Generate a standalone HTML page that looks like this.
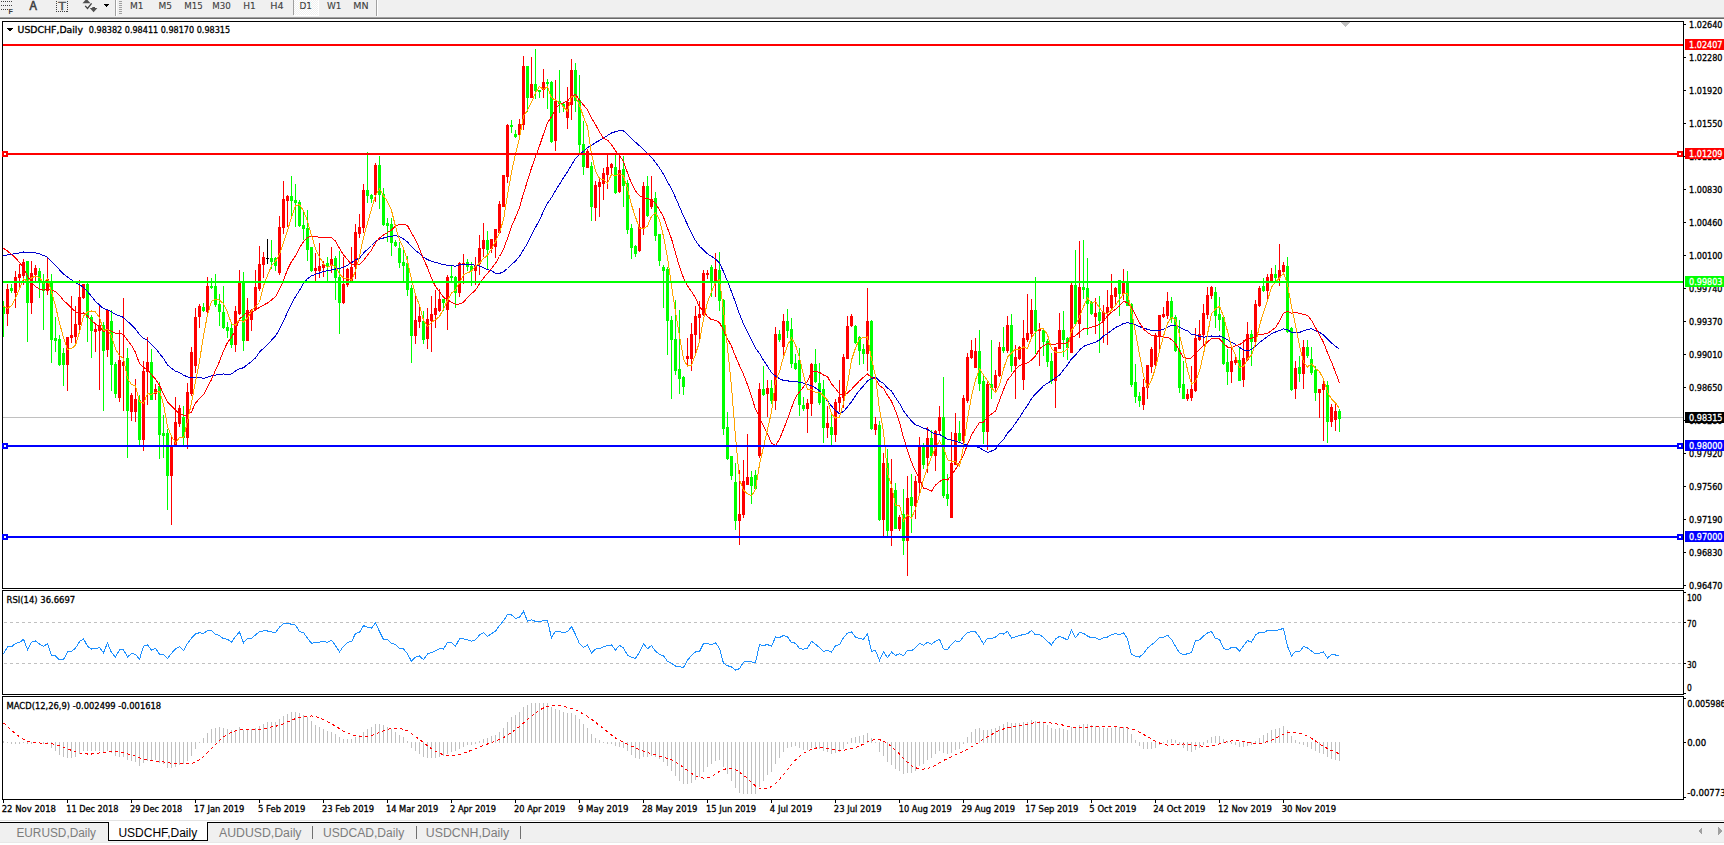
<!DOCTYPE html>
<html><head><meta charset="utf-8"><title>USDCHF,Daily</title>
<style>html,body{margin:0;padding:0;background:#fff}body{width:1724px;height:845px;overflow:hidden;position:relative;font-family:"Liberation Sans", "DejaVu Sans", sans-serif}</style>
</head><body>
<svg width="1724" height="845" viewBox="0 0 1724 845" shape-rendering="crispEdges" style="position:absolute;left:0;top:0">
<rect x="0" y="0" width="1724" height="845" fill="#ffffff"/>
<rect x="0" y="0" width="1724" height="17" fill="#f0f0f0"/>
<rect x="0" y="17" width="1724" height="1" fill="#a0a0a0"/>
<rect x="0" y="18" width="1724" height="1" fill="#696969"/>
<defs><clipPath id="cm"><rect x="3" y="22" width="1680" height="566"/></clipPath><clipPath id="cr"><rect x="3" y="591" width="1680" height="103"/></clipPath><clipPath id="cd"><rect x="3" y="697" width="1680" height="102"/></clipPath></defs>
<g clip-path="url(#cm)">
<rect x="3" y="417" width="1680" height="1" fill="#c0c0c0"/>
<rect x="3" y="301" width="1" height="36" fill="#00ff00"/>
<rect x="2" y="306" width="3" height="8" fill="#00ff00"/>
<rect x="7" y="284" width="1" height="42" fill="#ff0000"/>
<rect x="6" y="289" width="3" height="25" fill="#ff0000"/>
<rect x="11" y="284" width="1" height="9" fill="#00ff00"/>
<rect x="10" y="288" width="3" height="3" fill="#00ff00"/>
<rect x="15" y="271" width="1" height="37" fill="#ff0000"/>
<rect x="14" y="277" width="3" height="16" fill="#ff0000"/>
<rect x="19" y="264" width="1" height="23" fill="#ff0000"/>
<rect x="18" y="274" width="3" height="4" fill="#ff0000"/>
<rect x="23" y="259" width="1" height="26" fill="#ff0000"/>
<rect x="22" y="262" width="3" height="14" fill="#ff0000"/>
<rect x="27" y="261" width="1" height="81" fill="#00ff00"/>
<rect x="26" y="261" width="3" height="42" fill="#00ff00"/>
<rect x="31" y="261" width="1" height="53" fill="#ff0000"/>
<rect x="30" y="273" width="3" height="30" fill="#ff0000"/>
<rect x="35" y="265" width="1" height="18" fill="#ff0000"/>
<rect x="34" y="268" width="3" height="7" fill="#ff0000"/>
<rect x="39" y="268" width="1" height="30" fill="#00ff00"/>
<rect x="38" y="271" width="3" height="10" fill="#00ff00"/>
<rect x="43" y="274" width="1" height="56" fill="#00ff00"/>
<rect x="42" y="282" width="3" height="9" fill="#00ff00"/>
<rect x="47" y="257" width="1" height="38" fill="#ff0000"/>
<rect x="46" y="279" width="3" height="12" fill="#ff0000"/>
<rect x="51" y="274" width="1" height="89" fill="#00ff00"/>
<rect x="50" y="281" width="3" height="59" fill="#00ff00"/>
<rect x="55" y="317" width="1" height="35" fill="#00ff00"/>
<rect x="54" y="338" width="3" height="3" fill="#00ff00"/>
<rect x="59" y="335" width="1" height="31" fill="#00ff00"/>
<rect x="58" y="339" width="3" height="26" fill="#00ff00"/>
<rect x="63" y="348" width="1" height="38" fill="#00ff00"/>
<rect x="62" y="353" width="3" height="12" fill="#00ff00"/>
<rect x="67" y="337" width="1" height="54" fill="#ff0000"/>
<rect x="66" y="337" width="3" height="28" fill="#ff0000"/>
<rect x="71" y="296" width="1" height="47" fill="#ff0000"/>
<rect x="70" y="335" width="3" height="3" fill="#ff0000"/>
<rect x="75" y="306" width="1" height="38" fill="#ff0000"/>
<rect x="74" y="324" width="3" height="13" fill="#ff0000"/>
<rect x="79" y="280" width="1" height="51" fill="#ff0000"/>
<rect x="78" y="297" width="3" height="28" fill="#ff0000"/>
<rect x="83" y="284" width="1" height="15" fill="#ff0000"/>
<rect x="82" y="284" width="3" height="14" fill="#ff0000"/>
<rect x="87" y="283" width="1" height="59" fill="#00ff00"/>
<rect x="86" y="284" width="3" height="34" fill="#00ff00"/>
<rect x="91" y="315" width="1" height="43" fill="#00ff00"/>
<rect x="90" y="317" width="3" height="14" fill="#00ff00"/>
<rect x="95" y="325" width="1" height="27" fill="#ff0000"/>
<rect x="94" y="329" width="3" height="3" fill="#ff0000"/>
<rect x="99" y="306" width="1" height="84" fill="#ff0000"/>
<rect x="98" y="325" width="3" height="6" fill="#ff0000"/>
<rect x="103" y="322" width="1" height="89" fill="#00ff00"/>
<rect x="102" y="325" width="3" height="26" fill="#00ff00"/>
<rect x="107" y="310" width="1" height="47" fill="#ff0000"/>
<rect x="106" y="310" width="3" height="40" fill="#ff0000"/>
<rect x="111" y="310" width="1" height="81" fill="#00ff00"/>
<rect x="110" y="321" width="3" height="44" fill="#00ff00"/>
<rect x="115" y="362" width="1" height="36" fill="#00ff00"/>
<rect x="114" y="364" width="3" height="30" fill="#00ff00"/>
<rect x="119" y="330" width="1" height="72" fill="#ff0000"/>
<rect x="118" y="360" width="3" height="38" fill="#ff0000"/>
<rect x="123" y="298" width="1" height="113" fill="#ff0000"/>
<rect x="122" y="362" width="3" height="4" fill="#ff0000"/>
<rect x="127" y="348" width="1" height="110" fill="#00ff00"/>
<rect x="126" y="358" width="3" height="53" fill="#00ff00"/>
<rect x="131" y="393" width="1" height="28" fill="#ff0000"/>
<rect x="130" y="395" width="3" height="17" fill="#ff0000"/>
<rect x="135" y="379" width="1" height="43" fill="#ff0000"/>
<rect x="134" y="399" width="3" height="13" fill="#ff0000"/>
<rect x="139" y="395" width="1" height="50" fill="#00ff00"/>
<rect x="138" y="400" width="3" height="40" fill="#00ff00"/>
<rect x="143" y="361" width="1" height="90" fill="#ff0000"/>
<rect x="142" y="371" width="3" height="69" fill="#ff0000"/>
<rect x="147" y="337" width="1" height="68" fill="#ff0000"/>
<rect x="146" y="362" width="3" height="10" fill="#ff0000"/>
<rect x="151" y="349" width="1" height="51" fill="#00ff00"/>
<rect x="150" y="362" width="3" height="38" fill="#00ff00"/>
<rect x="155" y="384" width="1" height="16" fill="#ff0000"/>
<rect x="154" y="389" width="3" height="5" fill="#ff0000"/>
<rect x="159" y="382" width="1" height="77" fill="#00ff00"/>
<rect x="158" y="386" width="3" height="49" fill="#00ff00"/>
<rect x="163" y="415" width="1" height="43" fill="#00ff00"/>
<rect x="162" y="433" width="3" height="3" fill="#00ff00"/>
<rect x="167" y="429" width="1" height="81" fill="#00ff00"/>
<rect x="166" y="433" width="3" height="43" fill="#00ff00"/>
<rect x="171" y="437" width="1" height="88" fill="#ff0000"/>
<rect x="170" y="446" width="3" height="30" fill="#ff0000"/>
<rect x="175" y="397" width="1" height="48" fill="#ff0000"/>
<rect x="174" y="422" width="3" height="23" fill="#ff0000"/>
<rect x="179" y="405" width="1" height="22" fill="#ff0000"/>
<rect x="178" y="408" width="3" height="16" fill="#ff0000"/>
<rect x="183" y="406" width="1" height="39" fill="#00ff00"/>
<rect x="182" y="417" width="3" height="21" fill="#00ff00"/>
<rect x="187" y="383" width="1" height="66" fill="#ff0000"/>
<rect x="186" y="392" width="3" height="46" fill="#ff0000"/>
<rect x="191" y="347" width="1" height="49" fill="#ff0000"/>
<rect x="190" y="352" width="3" height="42" fill="#ff0000"/>
<rect x="195" y="308" width="1" height="65" fill="#ff0000"/>
<rect x="194" y="317" width="3" height="49" fill="#ff0000"/>
<rect x="199" y="304" width="1" height="24" fill="#ff0000"/>
<rect x="198" y="306" width="3" height="11" fill="#ff0000"/>
<rect x="203" y="303" width="1" height="9" fill="#00ff00"/>
<rect x="202" y="307" width="3" height="4" fill="#00ff00"/>
<rect x="207" y="277" width="1" height="36" fill="#ff0000"/>
<rect x="206" y="286" width="3" height="26" fill="#ff0000"/>
<rect x="211" y="278" width="1" height="11" fill="#00ff00"/>
<rect x="210" y="286" width="3" height="2" fill="#00ff00"/>
<rect x="215" y="274" width="1" height="33" fill="#00ff00"/>
<rect x="214" y="286" width="3" height="19" fill="#00ff00"/>
<rect x="219" y="294" width="1" height="32" fill="#00ff00"/>
<rect x="218" y="304" width="3" height="8" fill="#00ff00"/>
<rect x="223" y="286" width="1" height="43" fill="#00ff00"/>
<rect x="222" y="312" width="3" height="16" fill="#00ff00"/>
<rect x="227" y="322" width="1" height="16" fill="#00ff00"/>
<rect x="226" y="327" width="3" height="4" fill="#00ff00"/>
<rect x="231" y="324" width="1" height="24" fill="#00ff00"/>
<rect x="230" y="328" width="3" height="17" fill="#00ff00"/>
<rect x="235" y="306" width="1" height="46" fill="#ff0000"/>
<rect x="234" y="311" width="3" height="34" fill="#ff0000"/>
<rect x="239" y="270" width="1" height="45" fill="#ff0000"/>
<rect x="238" y="283" width="3" height="31" fill="#ff0000"/>
<rect x="243" y="272" width="1" height="79" fill="#00ff00"/>
<rect x="242" y="283" width="3" height="58" fill="#00ff00"/>
<rect x="247" y="298" width="1" height="43" fill="#ff0000"/>
<rect x="246" y="310" width="3" height="31" fill="#ff0000"/>
<rect x="251" y="309" width="1" height="22" fill="#ff0000"/>
<rect x="250" y="310" width="3" height="10" fill="#ff0000"/>
<rect x="255" y="270" width="1" height="40" fill="#ff0000"/>
<rect x="254" y="287" width="3" height="23" fill="#ff0000"/>
<rect x="259" y="246" width="1" height="45" fill="#ff0000"/>
<rect x="258" y="264" width="3" height="25" fill="#ff0000"/>
<rect x="263" y="252" width="1" height="26" fill="#ff0000"/>
<rect x="262" y="257" width="3" height="8" fill="#ff0000"/>
<rect x="267" y="239" width="1" height="25" fill="#000000"/>
<rect x="266" y="258" width="3" height="1" fill="#000000"/>
<rect x="271" y="240" width="1" height="29" fill="#00ff00"/>
<rect x="270" y="258" width="3" height="4" fill="#00ff00"/>
<rect x="275" y="257" width="1" height="14" fill="#00ff00"/>
<rect x="274" y="258" width="3" height="8" fill="#00ff00"/>
<rect x="279" y="216" width="1" height="59" fill="#ff0000"/>
<rect x="278" y="227" width="3" height="46" fill="#ff0000"/>
<rect x="283" y="181" width="1" height="53" fill="#ff0000"/>
<rect x="282" y="199" width="3" height="29" fill="#ff0000"/>
<rect x="287" y="195" width="1" height="32" fill="#ff0000"/>
<rect x="286" y="196" width="3" height="5" fill="#ff0000"/>
<rect x="291" y="176" width="1" height="40" fill="#00ff00"/>
<rect x="290" y="196" width="3" height="5" fill="#00ff00"/>
<rect x="295" y="184" width="1" height="43" fill="#00ff00"/>
<rect x="294" y="200" width="3" height="3" fill="#00ff00"/>
<rect x="299" y="200" width="1" height="27" fill="#00ff00"/>
<rect x="298" y="202" width="3" height="24" fill="#00ff00"/>
<rect x="303" y="210" width="1" height="30" fill="#00ff00"/>
<rect x="302" y="225" width="3" height="4" fill="#00ff00"/>
<rect x="307" y="210" width="1" height="51" fill="#00ff00"/>
<rect x="306" y="228" width="3" height="22" fill="#00ff00"/>
<rect x="311" y="247" width="1" height="25" fill="#00ff00"/>
<rect x="310" y="247" width="3" height="24" fill="#00ff00"/>
<rect x="315" y="253" width="1" height="29" fill="#ff0000"/>
<rect x="314" y="268" width="3" height="3" fill="#ff0000"/>
<rect x="319" y="243" width="1" height="35" fill="#ff0000"/>
<rect x="318" y="266" width="3" height="5" fill="#ff0000"/>
<rect x="323" y="261" width="1" height="16" fill="#ff0000"/>
<rect x="322" y="264" width="3" height="4" fill="#ff0000"/>
<rect x="327" y="257" width="1" height="25" fill="#00ff00"/>
<rect x="326" y="263" width="3" height="4" fill="#00ff00"/>
<rect x="331" y="247" width="1" height="26" fill="#ff0000"/>
<rect x="330" y="259" width="3" height="7" fill="#ff0000"/>
<rect x="335" y="256" width="1" height="44" fill="#00ff00"/>
<rect x="334" y="258" width="3" height="20" fill="#00ff00"/>
<rect x="339" y="251" width="1" height="83" fill="#00ff00"/>
<rect x="338" y="277" width="3" height="26" fill="#00ff00"/>
<rect x="343" y="257" width="1" height="47" fill="#ff0000"/>
<rect x="342" y="284" width="3" height="19" fill="#ff0000"/>
<rect x="347" y="268" width="1" height="19" fill="#ff0000"/>
<rect x="346" y="269" width="3" height="16" fill="#ff0000"/>
<rect x="351" y="247" width="1" height="35" fill="#ff0000"/>
<rect x="350" y="267" width="3" height="14" fill="#ff0000"/>
<rect x="355" y="224" width="1" height="55" fill="#ff0000"/>
<rect x="354" y="232" width="3" height="35" fill="#ff0000"/>
<rect x="359" y="214" width="1" height="24" fill="#ff0000"/>
<rect x="358" y="227" width="3" height="7" fill="#ff0000"/>
<rect x="363" y="184" width="1" height="49" fill="#ff0000"/>
<rect x="362" y="190" width="3" height="38" fill="#ff0000"/>
<rect x="367" y="152" width="1" height="51" fill="#00ff00"/>
<rect x="366" y="190" width="3" height="6" fill="#00ff00"/>
<rect x="371" y="194" width="1" height="9" fill="#00ff00"/>
<rect x="370" y="195" width="3" height="4" fill="#00ff00"/>
<rect x="375" y="163" width="1" height="39" fill="#ff0000"/>
<rect x="374" y="165" width="3" height="30" fill="#ff0000"/>
<rect x="379" y="156" width="1" height="53" fill="#00ff00"/>
<rect x="378" y="165" width="3" height="30" fill="#00ff00"/>
<rect x="383" y="188" width="1" height="38" fill="#00ff00"/>
<rect x="382" y="194" width="3" height="31" fill="#00ff00"/>
<rect x="387" y="218" width="1" height="24" fill="#00ff00"/>
<rect x="386" y="223" width="3" height="3" fill="#00ff00"/>
<rect x="391" y="218" width="1" height="38" fill="#00ff00"/>
<rect x="390" y="224" width="3" height="19" fill="#00ff00"/>
<rect x="395" y="240" width="1" height="7" fill="#00ff00"/>
<rect x="394" y="242" width="3" height="4" fill="#00ff00"/>
<rect x="399" y="242" width="1" height="26" fill="#00ff00"/>
<rect x="398" y="248" width="3" height="15" fill="#00ff00"/>
<rect x="403" y="249" width="1" height="32" fill="#00ff00"/>
<rect x="402" y="262" width="3" height="4" fill="#00ff00"/>
<rect x="407" y="256" width="1" height="40" fill="#00ff00"/>
<rect x="406" y="263" width="3" height="27" fill="#00ff00"/>
<rect x="411" y="285" width="1" height="78" fill="#00ff00"/>
<rect x="410" y="288" width="3" height="48" fill="#00ff00"/>
<rect x="415" y="296" width="1" height="48" fill="#ff0000"/>
<rect x="414" y="320" width="3" height="16" fill="#ff0000"/>
<rect x="419" y="306" width="1" height="22" fill="#ff0000"/>
<rect x="418" y="316" width="3" height="6" fill="#ff0000"/>
<rect x="423" y="311" width="1" height="33" fill="#00ff00"/>
<rect x="422" y="321" width="3" height="19" fill="#00ff00"/>
<rect x="427" y="308" width="1" height="41" fill="#ff0000"/>
<rect x="426" y="319" width="3" height="20" fill="#ff0000"/>
<rect x="431" y="296" width="1" height="56" fill="#ff0000"/>
<rect x="430" y="314" width="3" height="7" fill="#ff0000"/>
<rect x="435" y="290" width="1" height="38" fill="#ff0000"/>
<rect x="434" y="308" width="3" height="7" fill="#ff0000"/>
<rect x="439" y="289" width="1" height="23" fill="#ff0000"/>
<rect x="438" y="299" width="3" height="12" fill="#ff0000"/>
<rect x="443" y="299" width="1" height="12" fill="#00ff00"/>
<rect x="442" y="299" width="3" height="4" fill="#00ff00"/>
<rect x="447" y="275" width="1" height="55" fill="#ff0000"/>
<rect x="446" y="277" width="3" height="33" fill="#ff0000"/>
<rect x="451" y="266" width="1" height="16" fill="#00ff00"/>
<rect x="450" y="276" width="3" height="2" fill="#00ff00"/>
<rect x="455" y="276" width="1" height="32" fill="#00ff00"/>
<rect x="454" y="277" width="3" height="16" fill="#00ff00"/>
<rect x="459" y="262" width="1" height="35" fill="#ff0000"/>
<rect x="458" y="263" width="3" height="30" fill="#ff0000"/>
<rect x="463" y="254" width="1" height="30" fill="#ff0000"/>
<rect x="462" y="263" width="3" height="2" fill="#ff0000"/>
<rect x="467" y="259" width="1" height="12" fill="#00ff00"/>
<rect x="466" y="262" width="3" height="5" fill="#00ff00"/>
<rect x="471" y="262" width="1" height="24" fill="#00ff00"/>
<rect x="470" y="266" width="3" height="5" fill="#00ff00"/>
<rect x="475" y="257" width="1" height="28" fill="#ff0000"/>
<rect x="474" y="266" width="3" height="5" fill="#ff0000"/>
<rect x="479" y="235" width="1" height="40" fill="#ff0000"/>
<rect x="478" y="248" width="3" height="16" fill="#ff0000"/>
<rect x="483" y="223" width="1" height="34" fill="#ff0000"/>
<rect x="482" y="240" width="3" height="9" fill="#ff0000"/>
<rect x="487" y="231" width="1" height="38" fill="#00ff00"/>
<rect x="486" y="240" width="3" height="10" fill="#00ff00"/>
<rect x="491" y="239" width="1" height="14" fill="#ff0000"/>
<rect x="490" y="239" width="3" height="10" fill="#ff0000"/>
<rect x="495" y="229" width="1" height="29" fill="#ff0000"/>
<rect x="494" y="229" width="3" height="18" fill="#ff0000"/>
<rect x="499" y="201" width="1" height="33" fill="#ff0000"/>
<rect x="498" y="204" width="3" height="29" fill="#ff0000"/>
<rect x="503" y="175" width="1" height="32" fill="#ff0000"/>
<rect x="502" y="175" width="3" height="32" fill="#ff0000"/>
<rect x="507" y="124" width="1" height="59" fill="#ff0000"/>
<rect x="506" y="125" width="3" height="52" fill="#ff0000"/>
<rect x="511" y="120" width="1" height="13" fill="#00ff00"/>
<rect x="510" y="125" width="3" height="2" fill="#00ff00"/>
<rect x="515" y="130" width="1" height="8" fill="#00ff00"/>
<rect x="514" y="134" width="3" height="3" fill="#00ff00"/>
<rect x="519" y="119" width="1" height="17" fill="#ff0000"/>
<rect x="518" y="124" width="3" height="11" fill="#ff0000"/>
<rect x="523" y="56" width="1" height="74" fill="#ff0000"/>
<rect x="522" y="66" width="3" height="59" fill="#ff0000"/>
<rect x="527" y="66" width="1" height="46" fill="#00ff00"/>
<rect x="526" y="66" width="3" height="32" fill="#00ff00"/>
<rect x="531" y="57" width="1" height="41" fill="#ff0000"/>
<rect x="530" y="84" width="3" height="14" fill="#ff0000"/>
<rect x="535" y="49" width="1" height="50" fill="#00ff00"/>
<rect x="534" y="84" width="3" height="7" fill="#00ff00"/>
<rect x="539" y="90" width="1" height="8" fill="#00ff00"/>
<rect x="538" y="90" width="3" height="2" fill="#00ff00"/>
<rect x="543" y="69" width="1" height="29" fill="#ff0000"/>
<rect x="542" y="82" width="3" height="8" fill="#ff0000"/>
<rect x="547" y="79" width="1" height="30" fill="#00ff00"/>
<rect x="546" y="82" width="3" height="2" fill="#00ff00"/>
<rect x="551" y="81" width="1" height="62" fill="#00ff00"/>
<rect x="550" y="82" width="3" height="60" fill="#00ff00"/>
<rect x="555" y="80" width="1" height="71" fill="#ff0000"/>
<rect x="554" y="101" width="3" height="40" fill="#ff0000"/>
<rect x="559" y="70" width="1" height="43" fill="#00ff00"/>
<rect x="558" y="101" width="3" height="3" fill="#00ff00"/>
<rect x="563" y="103" width="1" height="9" fill="#00ff00"/>
<rect x="562" y="104" width="3" height="3" fill="#00ff00"/>
<rect x="567" y="87" width="1" height="42" fill="#ff0000"/>
<rect x="566" y="102" width="3" height="16" fill="#ff0000"/>
<rect x="571" y="59" width="1" height="61" fill="#ff0000"/>
<rect x="570" y="70" width="3" height="35" fill="#ff0000"/>
<rect x="575" y="63" width="1" height="49" fill="#00ff00"/>
<rect x="574" y="70" width="3" height="31" fill="#00ff00"/>
<rect x="579" y="75" width="1" height="79" fill="#00ff00"/>
<rect x="578" y="100" width="3" height="45" fill="#00ff00"/>
<rect x="583" y="121" width="1" height="54" fill="#00ff00"/>
<rect x="582" y="144" width="3" height="23" fill="#00ff00"/>
<rect x="587" y="149" width="1" height="19" fill="#ff0000"/>
<rect x="586" y="151" width="3" height="17" fill="#ff0000"/>
<rect x="591" y="162" width="1" height="59" fill="#00ff00"/>
<rect x="590" y="166" width="3" height="41" fill="#00ff00"/>
<rect x="595" y="181" width="1" height="40" fill="#ff0000"/>
<rect x="594" y="185" width="3" height="23" fill="#ff0000"/>
<rect x="599" y="179" width="1" height="38" fill="#ff0000"/>
<rect x="598" y="182" width="3" height="5" fill="#ff0000"/>
<rect x="603" y="168" width="1" height="32" fill="#ff0000"/>
<rect x="602" y="173" width="3" height="11" fill="#ff0000"/>
<rect x="607" y="154" width="1" height="35" fill="#ff0000"/>
<rect x="606" y="167" width="3" height="8" fill="#ff0000"/>
<rect x="611" y="163" width="1" height="12" fill="#ff0000"/>
<rect x="610" y="164" width="3" height="4" fill="#ff0000"/>
<rect x="615" y="154" width="1" height="40" fill="#00ff00"/>
<rect x="614" y="167" width="3" height="26" fill="#00ff00"/>
<rect x="619" y="154" width="1" height="39" fill="#ff0000"/>
<rect x="618" y="170" width="3" height="22" fill="#ff0000"/>
<rect x="623" y="156" width="1" height="51" fill="#00ff00"/>
<rect x="622" y="169" width="3" height="17" fill="#00ff00"/>
<rect x="627" y="180" width="1" height="54" fill="#00ff00"/>
<rect x="626" y="183" width="3" height="47" fill="#00ff00"/>
<rect x="631" y="224" width="1" height="35" fill="#00ff00"/>
<rect x="630" y="228" width="3" height="20" fill="#00ff00"/>
<rect x="635" y="245" width="1" height="12" fill="#00ff00"/>
<rect x="634" y="246" width="3" height="8" fill="#00ff00"/>
<rect x="639" y="208" width="1" height="44" fill="#ff0000"/>
<rect x="638" y="227" width="3" height="24" fill="#ff0000"/>
<rect x="643" y="182" width="1" height="53" fill="#ff0000"/>
<rect x="642" y="186" width="3" height="43" fill="#ff0000"/>
<rect x="647" y="176" width="1" height="41" fill="#00ff00"/>
<rect x="646" y="186" width="3" height="30" fill="#00ff00"/>
<rect x="651" y="176" width="1" height="33" fill="#ff0000"/>
<rect x="650" y="199" width="3" height="8" fill="#ff0000"/>
<rect x="655" y="192" width="1" height="49" fill="#00ff00"/>
<rect x="654" y="198" width="3" height="38" fill="#00ff00"/>
<rect x="659" y="234" width="1" height="32" fill="#00ff00"/>
<rect x="658" y="234" width="3" height="27" fill="#00ff00"/>
<rect x="663" y="265" width="1" height="43" fill="#00ff00"/>
<rect x="662" y="267" width="3" height="4" fill="#00ff00"/>
<rect x="667" y="267" width="1" height="88" fill="#00ff00"/>
<rect x="666" y="269" width="3" height="52" fill="#00ff00"/>
<rect x="671" y="316" width="1" height="83" fill="#00ff00"/>
<rect x="670" y="320" width="3" height="20" fill="#00ff00"/>
<rect x="675" y="300" width="1" height="75" fill="#00ff00"/>
<rect x="674" y="339" width="3" height="32" fill="#00ff00"/>
<rect x="679" y="310" width="1" height="84" fill="#00ff00"/>
<rect x="678" y="369" width="3" height="10" fill="#00ff00"/>
<rect x="683" y="376" width="1" height="19" fill="#00ff00"/>
<rect x="682" y="377" width="3" height="10" fill="#00ff00"/>
<rect x="687" y="338" width="1" height="27" fill="#ff0000"/>
<rect x="686" y="356" width="3" height="3" fill="#ff0000"/>
<rect x="691" y="323" width="1" height="48" fill="#ff0000"/>
<rect x="690" y="334" width="3" height="25" fill="#ff0000"/>
<rect x="695" y="306" width="1" height="47" fill="#ff0000"/>
<rect x="694" y="316" width="3" height="19" fill="#ff0000"/>
<rect x="699" y="301" width="1" height="39" fill="#ff0000"/>
<rect x="698" y="314" width="3" height="4" fill="#ff0000"/>
<rect x="703" y="270" width="1" height="46" fill="#ff0000"/>
<rect x="702" y="273" width="3" height="42" fill="#ff0000"/>
<rect x="707" y="270" width="1" height="9" fill="#ff0000"/>
<rect x="706" y="273" width="3" height="2" fill="#ff0000"/>
<rect x="711" y="265" width="1" height="32" fill="#00ff00"/>
<rect x="710" y="267" width="3" height="14" fill="#00ff00"/>
<rect x="715" y="253" width="1" height="44" fill="#ff0000"/>
<rect x="714" y="269" width="3" height="12" fill="#ff0000"/>
<rect x="719" y="252" width="1" height="59" fill="#00ff00"/>
<rect x="718" y="270" width="3" height="31" fill="#00ff00"/>
<rect x="723" y="299" width="1" height="136" fill="#00ff00"/>
<rect x="722" y="300" width="3" height="129" fill="#00ff00"/>
<rect x="727" y="412" width="1" height="48" fill="#00ff00"/>
<rect x="726" y="427" width="3" height="32" fill="#00ff00"/>
<rect x="731" y="456" width="1" height="24" fill="#00ff00"/>
<rect x="730" y="456" width="3" height="20" fill="#00ff00"/>
<rect x="735" y="463" width="1" height="67" fill="#00ff00"/>
<rect x="734" y="482" width="3" height="39" fill="#00ff00"/>
<rect x="739" y="470" width="1" height="75" fill="#ff0000"/>
<rect x="738" y="514" width="3" height="7" fill="#ff0000"/>
<rect x="743" y="460" width="1" height="58" fill="#ff0000"/>
<rect x="742" y="481" width="3" height="34" fill="#ff0000"/>
<rect x="747" y="434" width="1" height="51" fill="#ff0000"/>
<rect x="746" y="477" width="3" height="8" fill="#ff0000"/>
<rect x="751" y="471" width="1" height="33" fill="#00ff00"/>
<rect x="750" y="477" width="3" height="9" fill="#00ff00"/>
<rect x="755" y="470" width="1" height="20" fill="#00ff00"/>
<rect x="754" y="475" width="3" height="14" fill="#00ff00"/>
<rect x="759" y="383" width="1" height="75" fill="#ff0000"/>
<rect x="758" y="389" width="3" height="67" fill="#ff0000"/>
<rect x="763" y="366" width="1" height="30" fill="#00ff00"/>
<rect x="762" y="389" width="3" height="6" fill="#00ff00"/>
<rect x="767" y="380" width="1" height="37" fill="#ff0000"/>
<rect x="766" y="388" width="3" height="6" fill="#ff0000"/>
<rect x="771" y="380" width="1" height="24" fill="#00ff00"/>
<rect x="770" y="388" width="3" height="13" fill="#00ff00"/>
<rect x="775" y="327" width="1" height="83" fill="#ff0000"/>
<rect x="774" y="334" width="3" height="67" fill="#ff0000"/>
<rect x="779" y="330" width="1" height="12" fill="#00ff00"/>
<rect x="778" y="334" width="3" height="6" fill="#00ff00"/>
<rect x="783" y="314" width="1" height="41" fill="#ff0000"/>
<rect x="782" y="321" width="3" height="26" fill="#ff0000"/>
<rect x="787" y="309" width="1" height="29" fill="#00ff00"/>
<rect x="786" y="321" width="3" height="10" fill="#00ff00"/>
<rect x="791" y="318" width="1" height="50" fill="#00ff00"/>
<rect x="790" y="329" width="3" height="35" fill="#00ff00"/>
<rect x="795" y="354" width="1" height="16" fill="#00ff00"/>
<rect x="794" y="363" width="3" height="6" fill="#00ff00"/>
<rect x="799" y="348" width="1" height="68" fill="#00ff00"/>
<rect x="798" y="360" width="3" height="45" fill="#00ff00"/>
<rect x="803" y="397" width="1" height="14" fill="#00ff00"/>
<rect x="802" y="405" width="3" height="4" fill="#00ff00"/>
<rect x="807" y="399" width="1" height="34" fill="#ff0000"/>
<rect x="806" y="403" width="3" height="6" fill="#ff0000"/>
<rect x="811" y="363" width="1" height="53" fill="#ff0000"/>
<rect x="810" y="364" width="3" height="40" fill="#ff0000"/>
<rect x="815" y="349" width="1" height="34" fill="#00ff00"/>
<rect x="814" y="364" width="3" height="18" fill="#00ff00"/>
<rect x="819" y="363" width="1" height="42" fill="#00ff00"/>
<rect x="818" y="383" width="3" height="20" fill="#00ff00"/>
<rect x="823" y="380" width="1" height="63" fill="#00ff00"/>
<rect x="822" y="389" width="3" height="39" fill="#00ff00"/>
<rect x="827" y="406" width="1" height="32" fill="#ff0000"/>
<rect x="826" y="423" width="3" height="5" fill="#ff0000"/>
<rect x="831" y="412" width="1" height="33" fill="#00ff00"/>
<rect x="830" y="427" width="3" height="8" fill="#00ff00"/>
<rect x="835" y="399" width="1" height="43" fill="#ff0000"/>
<rect x="834" y="402" width="3" height="33" fill="#ff0000"/>
<rect x="839" y="380" width="1" height="32" fill="#ff0000"/>
<rect x="838" y="397" width="3" height="6" fill="#ff0000"/>
<rect x="843" y="354" width="1" height="54" fill="#ff0000"/>
<rect x="842" y="357" width="3" height="41" fill="#ff0000"/>
<rect x="847" y="316" width="1" height="43" fill="#ff0000"/>
<rect x="846" y="326" width="3" height="33" fill="#ff0000"/>
<rect x="851" y="314" width="1" height="13" fill="#ff0000"/>
<rect x="850" y="316" width="3" height="10" fill="#ff0000"/>
<rect x="855" y="325" width="1" height="19" fill="#00ff00"/>
<rect x="854" y="326" width="3" height="17" fill="#00ff00"/>
<rect x="859" y="336" width="1" height="29" fill="#00ff00"/>
<rect x="858" y="337" width="3" height="14" fill="#00ff00"/>
<rect x="863" y="344" width="1" height="20" fill="#00ff00"/>
<rect x="862" y="349" width="3" height="5" fill="#00ff00"/>
<rect x="867" y="288" width="1" height="83" fill="#ff0000"/>
<rect x="866" y="321" width="3" height="33" fill="#ff0000"/>
<rect x="871" y="320" width="1" height="110" fill="#00ff00"/>
<rect x="870" y="321" width="3" height="108" fill="#00ff00"/>
<rect x="875" y="417" width="1" height="18" fill="#ff0000"/>
<rect x="874" y="424" width="3" height="6" fill="#ff0000"/>
<rect x="879" y="421" width="1" height="100" fill="#00ff00"/>
<rect x="878" y="425" width="3" height="95" fill="#00ff00"/>
<rect x="883" y="453" width="1" height="83" fill="#ff0000"/>
<rect x="882" y="463" width="3" height="57" fill="#ff0000"/>
<rect x="887" y="449" width="1" height="87" fill="#00ff00"/>
<rect x="886" y="463" width="3" height="68" fill="#00ff00"/>
<rect x="891" y="459" width="1" height="87" fill="#ff0000"/>
<rect x="890" y="488" width="3" height="43" fill="#ff0000"/>
<rect x="895" y="483" width="1" height="46" fill="#00ff00"/>
<rect x="894" y="490" width="3" height="39" fill="#00ff00"/>
<rect x="899" y="515" width="1" height="16" fill="#ff0000"/>
<rect x="898" y="517" width="3" height="12" fill="#ff0000"/>
<rect x="903" y="489" width="1" height="66" fill="#00ff00"/>
<rect x="902" y="514" width="3" height="27" fill="#00ff00"/>
<rect x="907" y="476" width="1" height="100" fill="#ff0000"/>
<rect x="906" y="498" width="3" height="43" fill="#ff0000"/>
<rect x="911" y="474" width="1" height="59" fill="#00ff00"/>
<rect x="910" y="497" width="3" height="9" fill="#00ff00"/>
<rect x="915" y="476" width="1" height="43" fill="#ff0000"/>
<rect x="914" y="481" width="3" height="25" fill="#ff0000"/>
<rect x="919" y="437" width="1" height="57" fill="#ff0000"/>
<rect x="918" y="446" width="3" height="37" fill="#ff0000"/>
<rect x="923" y="443" width="1" height="26" fill="#00ff00"/>
<rect x="922" y="446" width="3" height="19" fill="#00ff00"/>
<rect x="927" y="427" width="1" height="46" fill="#ff0000"/>
<rect x="926" y="438" width="3" height="20" fill="#ff0000"/>
<rect x="931" y="430" width="1" height="28" fill="#00ff00"/>
<rect x="930" y="438" width="3" height="18" fill="#00ff00"/>
<rect x="935" y="430" width="1" height="41" fill="#ff0000"/>
<rect x="934" y="431" width="3" height="25" fill="#ff0000"/>
<rect x="939" y="406" width="1" height="29" fill="#ff0000"/>
<rect x="938" y="417" width="3" height="14" fill="#ff0000"/>
<rect x="943" y="377" width="1" height="121" fill="#00ff00"/>
<rect x="942" y="417" width="3" height="79" fill="#00ff00"/>
<rect x="947" y="474" width="1" height="32" fill="#00ff00"/>
<rect x="946" y="494" width="3" height="5" fill="#00ff00"/>
<rect x="951" y="432" width="1" height="86" fill="#ff0000"/>
<rect x="950" y="463" width="3" height="55" fill="#ff0000"/>
<rect x="955" y="413" width="1" height="52" fill="#ff0000"/>
<rect x="954" y="433" width="3" height="32" fill="#ff0000"/>
<rect x="959" y="421" width="1" height="21" fill="#00ff00"/>
<rect x="958" y="433" width="3" height="8" fill="#00ff00"/>
<rect x="963" y="395" width="1" height="52" fill="#ff0000"/>
<rect x="962" y="398" width="3" height="43" fill="#ff0000"/>
<rect x="967" y="353" width="1" height="50" fill="#ff0000"/>
<rect x="966" y="357" width="3" height="44" fill="#ff0000"/>
<rect x="971" y="340" width="1" height="19" fill="#ff0000"/>
<rect x="970" y="350" width="3" height="8" fill="#ff0000"/>
<rect x="975" y="338" width="1" height="30" fill="#ff0000"/>
<rect x="974" y="351" width="3" height="17" fill="#ff0000"/>
<rect x="979" y="330" width="1" height="61" fill="#00ff00"/>
<rect x="978" y="351" width="3" height="33" fill="#00ff00"/>
<rect x="983" y="375" width="1" height="69" fill="#00ff00"/>
<rect x="982" y="381" width="3" height="51" fill="#00ff00"/>
<rect x="987" y="381" width="1" height="69" fill="#ff0000"/>
<rect x="986" y="384" width="3" height="48" fill="#ff0000"/>
<rect x="991" y="340" width="1" height="59" fill="#00ff00"/>
<rect x="990" y="384" width="3" height="4" fill="#00ff00"/>
<rect x="995" y="370" width="1" height="23" fill="#ff0000"/>
<rect x="994" y="375" width="3" height="13" fill="#ff0000"/>
<rect x="999" y="342" width="1" height="35" fill="#ff0000"/>
<rect x="998" y="347" width="3" height="29" fill="#ff0000"/>
<rect x="1003" y="327" width="1" height="26" fill="#00ff00"/>
<rect x="1002" y="347" width="3" height="4" fill="#00ff00"/>
<rect x="1007" y="316" width="1" height="37" fill="#ff0000"/>
<rect x="1006" y="325" width="3" height="26" fill="#ff0000"/>
<rect x="1011" y="314" width="1" height="58" fill="#00ff00"/>
<rect x="1010" y="325" width="3" height="41" fill="#00ff00"/>
<rect x="1015" y="345" width="1" height="54" fill="#ff0000"/>
<rect x="1014" y="357" width="3" height="9" fill="#ff0000"/>
<rect x="1019" y="346" width="1" height="14" fill="#ff0000"/>
<rect x="1018" y="347" width="3" height="12" fill="#ff0000"/>
<rect x="1023" y="320" width="1" height="70" fill="#ff0000"/>
<rect x="1022" y="338" width="3" height="42" fill="#ff0000"/>
<rect x="1027" y="294" width="1" height="48" fill="#ff0000"/>
<rect x="1026" y="333" width="3" height="7" fill="#ff0000"/>
<rect x="1031" y="299" width="1" height="38" fill="#ff0000"/>
<rect x="1030" y="310" width="3" height="24" fill="#ff0000"/>
<rect x="1035" y="277" width="1" height="77" fill="#00ff00"/>
<rect x="1034" y="310" width="3" height="21" fill="#00ff00"/>
<rect x="1039" y="323" width="1" height="43" fill="#ff0000"/>
<rect x="1038" y="329" width="3" height="2" fill="#ff0000"/>
<rect x="1043" y="328" width="1" height="28" fill="#00ff00"/>
<rect x="1042" y="330" width="3" height="12" fill="#00ff00"/>
<rect x="1047" y="339" width="1" height="28" fill="#00ff00"/>
<rect x="1046" y="341" width="3" height="21" fill="#00ff00"/>
<rect x="1051" y="353" width="1" height="31" fill="#00ff00"/>
<rect x="1050" y="361" width="3" height="20" fill="#00ff00"/>
<rect x="1055" y="347" width="1" height="61" fill="#ff0000"/>
<rect x="1054" y="347" width="3" height="34" fill="#ff0000"/>
<rect x="1059" y="313" width="1" height="36" fill="#ff0000"/>
<rect x="1058" y="330" width="3" height="19" fill="#ff0000"/>
<rect x="1063" y="311" width="1" height="46" fill="#00ff00"/>
<rect x="1062" y="330" width="3" height="10" fill="#00ff00"/>
<rect x="1067" y="337" width="1" height="23" fill="#00ff00"/>
<rect x="1066" y="338" width="3" height="10" fill="#00ff00"/>
<rect x="1071" y="283" width="1" height="70" fill="#ff0000"/>
<rect x="1070" y="285" width="3" height="68" fill="#ff0000"/>
<rect x="1075" y="250" width="1" height="75" fill="#00ff00"/>
<rect x="1074" y="285" width="3" height="39" fill="#00ff00"/>
<rect x="1079" y="241" width="1" height="97" fill="#ff0000"/>
<rect x="1078" y="287" width="3" height="37" fill="#ff0000"/>
<rect x="1083" y="240" width="1" height="59" fill="#00ff00"/>
<rect x="1082" y="287" width="3" height="3" fill="#00ff00"/>
<rect x="1087" y="258" width="1" height="77" fill="#00ff00"/>
<rect x="1086" y="288" width="3" height="16" fill="#00ff00"/>
<rect x="1091" y="301" width="1" height="14" fill="#00ff00"/>
<rect x="1090" y="303" width="3" height="11" fill="#00ff00"/>
<rect x="1095" y="298" width="1" height="36" fill="#ff0000"/>
<rect x="1094" y="313" width="3" height="4" fill="#ff0000"/>
<rect x="1099" y="296" width="1" height="57" fill="#00ff00"/>
<rect x="1098" y="312" width="3" height="9" fill="#00ff00"/>
<rect x="1103" y="305" width="1" height="38" fill="#ff0000"/>
<rect x="1102" y="312" width="3" height="9" fill="#ff0000"/>
<rect x="1107" y="290" width="1" height="55" fill="#ff0000"/>
<rect x="1106" y="307" width="3" height="6" fill="#ff0000"/>
<rect x="1111" y="274" width="1" height="35" fill="#ff0000"/>
<rect x="1110" y="295" width="3" height="13" fill="#ff0000"/>
<rect x="1115" y="287" width="1" height="18" fill="#ff0000"/>
<rect x="1114" y="288" width="3" height="9" fill="#ff0000"/>
<rect x="1119" y="280" width="1" height="36" fill="#00ff00"/>
<rect x="1118" y="280" width="3" height="14" fill="#00ff00"/>
<rect x="1123" y="269" width="1" height="31" fill="#ff0000"/>
<rect x="1122" y="283" width="3" height="11" fill="#ff0000"/>
<rect x="1127" y="271" width="1" height="35" fill="#00ff00"/>
<rect x="1126" y="282" width="3" height="24" fill="#00ff00"/>
<rect x="1131" y="303" width="1" height="84" fill="#00ff00"/>
<rect x="1130" y="304" width="3" height="81" fill="#00ff00"/>
<rect x="1135" y="364" width="1" height="39" fill="#00ff00"/>
<rect x="1134" y="382" width="3" height="15" fill="#00ff00"/>
<rect x="1139" y="392" width="1" height="15" fill="#00ff00"/>
<rect x="1138" y="396" width="3" height="5" fill="#00ff00"/>
<rect x="1143" y="379" width="1" height="31" fill="#ff0000"/>
<rect x="1142" y="387" width="3" height="18" fill="#ff0000"/>
<rect x="1147" y="365" width="1" height="34" fill="#ff0000"/>
<rect x="1146" y="365" width="3" height="23" fill="#ff0000"/>
<rect x="1151" y="347" width="1" height="26" fill="#ff0000"/>
<rect x="1150" y="349" width="3" height="18" fill="#ff0000"/>
<rect x="1155" y="333" width="1" height="34" fill="#ff0000"/>
<rect x="1154" y="335" width="3" height="30" fill="#ff0000"/>
<rect x="1159" y="315" width="1" height="36" fill="#ff0000"/>
<rect x="1158" y="315" width="3" height="22" fill="#ff0000"/>
<rect x="1163" y="307" width="1" height="11" fill="#ff0000"/>
<rect x="1162" y="314" width="3" height="3" fill="#ff0000"/>
<rect x="1167" y="292" width="1" height="27" fill="#ff0000"/>
<rect x="1166" y="301" width="3" height="15" fill="#ff0000"/>
<rect x="1171" y="297" width="1" height="26" fill="#00ff00"/>
<rect x="1170" y="301" width="3" height="18" fill="#00ff00"/>
<rect x="1175" y="315" width="1" height="37" fill="#00ff00"/>
<rect x="1174" y="317" width="3" height="34" fill="#00ff00"/>
<rect x="1179" y="320" width="1" height="73" fill="#00ff00"/>
<rect x="1178" y="350" width="3" height="38" fill="#00ff00"/>
<rect x="1183" y="361" width="1" height="38" fill="#00ff00"/>
<rect x="1182" y="384" width="3" height="15" fill="#00ff00"/>
<rect x="1187" y="389" width="1" height="12" fill="#ff0000"/>
<rect x="1186" y="394" width="3" height="5" fill="#ff0000"/>
<rect x="1191" y="366" width="1" height="35" fill="#ff0000"/>
<rect x="1190" y="389" width="3" height="9" fill="#ff0000"/>
<rect x="1195" y="328" width="1" height="64" fill="#ff0000"/>
<rect x="1194" y="338" width="3" height="53" fill="#ff0000"/>
<rect x="1199" y="320" width="1" height="21" fill="#ff0000"/>
<rect x="1198" y="334" width="3" height="6" fill="#ff0000"/>
<rect x="1203" y="304" width="1" height="41" fill="#ff0000"/>
<rect x="1202" y="313" width="3" height="22" fill="#ff0000"/>
<rect x="1207" y="287" width="1" height="32" fill="#ff0000"/>
<rect x="1206" y="295" width="3" height="20" fill="#ff0000"/>
<rect x="1211" y="286" width="1" height="13" fill="#ff0000"/>
<rect x="1210" y="287" width="3" height="9" fill="#ff0000"/>
<rect x="1215" y="287" width="1" height="41" fill="#00ff00"/>
<rect x="1214" y="292" width="3" height="24" fill="#00ff00"/>
<rect x="1219" y="297" width="1" height="34" fill="#00ff00"/>
<rect x="1218" y="314" width="3" height="6" fill="#00ff00"/>
<rect x="1223" y="316" width="1" height="49" fill="#00ff00"/>
<rect x="1222" y="317" width="3" height="47" fill="#00ff00"/>
<rect x="1227" y="349" width="1" height="36" fill="#00ff00"/>
<rect x="1226" y="362" width="3" height="10" fill="#00ff00"/>
<rect x="1231" y="347" width="1" height="36" fill="#ff0000"/>
<rect x="1230" y="361" width="3" height="11" fill="#ff0000"/>
<rect x="1235" y="354" width="1" height="11" fill="#ff0000"/>
<rect x="1234" y="360" width="3" height="3" fill="#ff0000"/>
<rect x="1239" y="347" width="1" height="34" fill="#00ff00"/>
<rect x="1238" y="360" width="3" height="21" fill="#00ff00"/>
<rect x="1243" y="340" width="1" height="47" fill="#ff0000"/>
<rect x="1242" y="358" width="3" height="22" fill="#ff0000"/>
<rect x="1247" y="322" width="1" height="39" fill="#ff0000"/>
<rect x="1246" y="334" width="3" height="26" fill="#ff0000"/>
<rect x="1251" y="330" width="1" height="36" fill="#00ff00"/>
<rect x="1250" y="334" width="3" height="8" fill="#00ff00"/>
<rect x="1255" y="300" width="1" height="46" fill="#ff0000"/>
<rect x="1254" y="304" width="3" height="38" fill="#ff0000"/>
<rect x="1259" y="286" width="1" height="21" fill="#ff0000"/>
<rect x="1258" y="288" width="3" height="18" fill="#ff0000"/>
<rect x="1263" y="278" width="1" height="14" fill="#00ff00"/>
<rect x="1262" y="286" width="3" height="5" fill="#00ff00"/>
<rect x="1267" y="274" width="1" height="27" fill="#ff0000"/>
<rect x="1266" y="277" width="3" height="14" fill="#ff0000"/>
<rect x="1271" y="268" width="1" height="13" fill="#ff0000"/>
<rect x="1270" y="274" width="3" height="7" fill="#ff0000"/>
<rect x="1275" y="265" width="1" height="16" fill="#00ff00"/>
<rect x="1274" y="274" width="3" height="4" fill="#00ff00"/>
<rect x="1279" y="244" width="1" height="42" fill="#ff0000"/>
<rect x="1278" y="270" width="3" height="8" fill="#ff0000"/>
<rect x="1283" y="262" width="1" height="12" fill="#ff0000"/>
<rect x="1282" y="265" width="3" height="7" fill="#ff0000"/>
<rect x="1287" y="257" width="1" height="76" fill="#00ff00"/>
<rect x="1286" y="266" width="3" height="66" fill="#00ff00"/>
<rect x="1291" y="327" width="1" height="64" fill="#00ff00"/>
<rect x="1290" y="328" width="3" height="62" fill="#00ff00"/>
<rect x="1295" y="361" width="1" height="38" fill="#ff0000"/>
<rect x="1294" y="368" width="3" height="21" fill="#ff0000"/>
<rect x="1299" y="356" width="1" height="26" fill="#00ff00"/>
<rect x="1298" y="367" width="3" height="7" fill="#00ff00"/>
<rect x="1303" y="340" width="1" height="49" fill="#ff0000"/>
<rect x="1302" y="347" width="3" height="27" fill="#ff0000"/>
<rect x="1307" y="340" width="1" height="18" fill="#00ff00"/>
<rect x="1306" y="347" width="3" height="9" fill="#00ff00"/>
<rect x="1311" y="347" width="1" height="28" fill="#00ff00"/>
<rect x="1310" y="359" width="3" height="14" fill="#00ff00"/>
<rect x="1315" y="366" width="1" height="35" fill="#00ff00"/>
<rect x="1314" y="370" width="3" height="23" fill="#00ff00"/>
<rect x="1319" y="389" width="1" height="29" fill="#ff0000"/>
<rect x="1318" y="389" width="3" height="4" fill="#ff0000"/>
<rect x="1323" y="380" width="1" height="61" fill="#ff0000"/>
<rect x="1322" y="384" width="3" height="6" fill="#ff0000"/>
<rect x="1327" y="381" width="1" height="62" fill="#00ff00"/>
<rect x="1326" y="385" width="3" height="37" fill="#00ff00"/>
<rect x="1331" y="404" width="1" height="23" fill="#ff0000"/>
<rect x="1330" y="407" width="3" height="15" fill="#ff0000"/>
<rect x="1335" y="404" width="1" height="27" fill="#ff0000"/>
<rect x="1334" y="411" width="3" height="9" fill="#ff0000"/>
<rect x="1339" y="409" width="1" height="23" fill="#00ff00"/>
<rect x="1338" y="411" width="3" height="8" fill="#00ff00"/>
<polyline points="3.5,256.0 7.5,254.9 11.5,254.3 15.5,253.5 19.5,252.9 23.5,252.0 27.5,252.7 31.5,252.7 35.5,252.8 39.5,253.8 43.5,255.5 47.5,257.3 51.5,261.3 55.5,265.3 59.5,269.8 63.5,274.0 67.5,277.1 71.5,279.9 75.5,282.5 79.5,284.8 83.5,287.3 87.5,291.5 91.5,296.5 95.5,301.3 99.5,305.1 103.5,308.7 107.5,309.8 111.5,311.8 115.5,314.4 119.5,315.7 123.5,317.4 127.5,321.4 131.5,324.9 135.5,329.0 139.5,334.5 143.5,338.2 147.5,340.2 151.5,344.4 155.5,348.4 159.5,353.5 163.5,358.4 167.5,364.9 171.5,368.4 175.5,371.2 179.5,372.6 183.5,375.1 187.5,376.9 191.5,377.5 195.5,377.2 199.5,377.5 203.5,378.4 207.5,377.3 211.5,375.9 215.5,375.1 219.5,374.6 223.5,373.9 227.5,374.5 231.5,373.9 235.5,371.1 239.5,368.6 243.5,367.8 247.5,364.5 251.5,361.6 255.5,357.9 259.5,352.0 263.5,348.3 267.5,344.8 271.5,340.2 275.5,336.1 279.5,329.2 283.5,321.3 287.5,312.0 291.5,303.8 295.5,296.5 299.5,290.4 303.5,283.4 307.5,278.7 311.5,275.9 315.5,274.3 319.5,273.0 323.5,271.5 327.5,270.8 331.5,269.9 335.5,269.0 339.5,268.6 343.5,267.2 347.5,265.2 351.5,262.6 355.5,259.9 359.5,258.1 363.5,253.1 367.5,249.3 371.5,245.5 375.5,241.5 379.5,239.1 383.5,238.0 387.5,236.9 391.5,236.3 395.5,235.6 399.5,236.8 403.5,239.0 407.5,242.1 411.5,246.6 415.5,250.5 419.5,253.6 423.5,257.3 427.5,259.6 431.5,261.1 435.5,262.4 439.5,263.5 443.5,264.8 447.5,265.1 451.5,265.7 455.5,266.2 459.5,264.9 463.5,264.2 467.5,264.1 471.5,264.3 475.5,265.4 479.5,266.1 483.5,267.8 487.5,269.5 491.5,270.9 495.5,273.1 499.5,273.4 503.5,271.8 507.5,268.5 511.5,264.6 515.5,261.0 519.5,256.4 523.5,249.7 527.5,243.4 531.5,235.0 535.5,227.4 539.5,219.9 543.5,211.3 547.5,203.4 551.5,197.6 555.5,190.7 559.5,184.2 563.5,177.7 567.5,171.8 571.5,164.9 575.5,158.5 579.5,154.6 583.5,151.3 587.5,147.5 591.5,145.4 595.5,142.6 599.5,140.4 603.5,138.2 607.5,135.5 611.5,133.0 615.5,131.7 619.5,130.6 623.5,130.9 627.5,134.4 631.5,138.4 635.5,142.3 639.5,145.7 643.5,149.7 647.5,153.6 651.5,157.4 655.5,162.3 659.5,167.9 663.5,174.2 667.5,182.1 671.5,188.7 675.5,197.6 679.5,206.8 683.5,216.1 687.5,224.6 691.5,233.4 695.5,240.6 699.5,246.3 703.5,249.8 707.5,253.9 711.5,256.4 715.5,259.2 719.5,263.1 723.5,271.6 727.5,281.3 731.5,291.7 735.5,302.6 739.5,314.1 743.5,324.0 747.5,332.2 751.5,340.2 755.5,348.0 759.5,353.4 763.5,360.3 767.5,366.1 771.5,372.8 775.5,376.1 779.5,378.7 783.5,380.4 787.5,380.8 791.5,381.6 795.5,381.5 799.5,382.4 803.5,383.1 807.5,384.7 811.5,385.7 815.5,387.9 819.5,390.8 823.5,396.0 827.5,401.0 831.5,406.1 835.5,410.5 839.5,413.7 843.5,411.4 847.5,406.9 851.5,401.7 855.5,395.7 859.5,390.3 863.5,386.0 867.5,380.8 871.5,378.9 875.5,376.8 879.5,381.1 883.5,383.4 887.5,388.1 891.5,391.1 895.5,397.5 899.5,403.4 903.5,410.7 907.5,416.3 911.5,421.1 915.5,424.8 919.5,426.2 923.5,428.1 927.5,429.3 931.5,432.3 935.5,434.0 939.5,434.4 943.5,436.7 947.5,439.2 951.5,440.2 955.5,441.2 959.5,442.6 963.5,444.0 967.5,445.1 971.5,446.2 975.5,446.5 979.5,447.6 983.5,450.2 987.5,452.4 991.5,451.0 995.5,449.3 999.5,443.6 1003.5,439.8 1007.5,433.0 1011.5,428.9 1015.5,423.2 1019.5,417.6 1023.5,410.9 1027.5,405.3 1031.5,398.8 1035.5,393.8 1039.5,389.9 1043.5,385.8 1047.5,383.2 1051.5,380.7 1055.5,377.9 1059.5,375.1 1063.5,369.9 1067.5,364.8 1071.5,358.9 1075.5,355.2 1079.5,350.1 1083.5,346.5 1087.5,344.7 1091.5,343.4 1095.5,342.1 1099.5,340.0 1103.5,336.1 1107.5,333.5 1111.5,330.4 1115.5,327.5 1119.5,325.7 1123.5,323.5 1127.5,322.8 1131.5,323.5 1135.5,324.8 1139.5,326.6 1143.5,328.2 1147.5,329.3 1151.5,330.6 1155.5,330.7 1159.5,330.3 1163.5,329.4 1167.5,327.4 1171.5,325.3 1175.5,325.4 1179.5,327.3 1183.5,329.3 1187.5,330.8 1191.5,334.3 1195.5,334.8 1199.5,336.4 1203.5,337.1 1207.5,336.9 1211.5,336.0 1215.5,336.1 1219.5,336.0 1223.5,337.8 1227.5,339.9 1231.5,342.1 1235.5,344.4 1239.5,347.3 1243.5,349.9 1247.5,350.8 1251.5,349.4 1255.5,346.3 1259.5,342.6 1263.5,339.4 1267.5,336.4 1271.5,333.9 1275.5,332.0 1279.5,330.5 1283.5,328.9 1287.5,329.8 1291.5,332.2 1295.5,332.8 1299.5,332.4 1303.5,330.7 1307.5,329.4 1311.5,328.8 1315.5,330.6 1319.5,332.5 1323.5,334.8 1327.5,339.0 1331.5,343.0 1335.5,346.2 1339.5,349.5" fill="none" stroke="#0000cd" stroke-width="1"/>
<polyline points="3.5,248.4 7.5,251.1 11.5,254.3 15.5,257.8 19.5,262.5 23.5,267.6 27.5,276.2 31.5,282.4 35.5,286.5 39.5,289.2 43.5,290.1 47.5,288.3 51.5,290.1 55.5,291.5 59.5,295.2 63.5,300.5 67.5,303.9 71.5,308.1 75.5,311.6 79.5,314.2 83.5,312.9 87.5,316.0 91.5,320.5 95.5,324.0 99.5,326.5 103.5,331.6 107.5,329.5 111.5,331.2 115.5,333.3 119.5,333.0 123.5,334.8 127.5,340.2 131.5,345.3 135.5,352.5 139.5,363.6 143.5,367.4 147.5,369.7 151.5,374.7 155.5,379.2 159.5,385.3 163.5,394.1 167.5,402.1 171.5,405.9 175.5,410.3 179.5,413.6 183.5,415.4 187.5,415.2 191.5,411.9 195.5,403.1 199.5,398.5 203.5,394.8 207.5,386.7 211.5,379.5 215.5,370.2 219.5,361.4 223.5,350.8 227.5,342.5 231.5,337.0 235.5,330.1 239.5,319.1 243.5,315.4 247.5,312.3 251.5,311.8 255.5,310.4 259.5,307.2 263.5,305.1 267.5,303.0 271.5,300.0 275.5,296.6 279.5,289.5 283.5,280.2 287.5,269.6 291.5,261.6 295.5,255.9 299.5,247.6 303.5,241.8 307.5,237.5 311.5,236.3 315.5,236.6 319.5,237.2 323.5,237.7 327.5,238.0 331.5,237.6 335.5,241.1 339.5,248.5 343.5,254.7 347.5,259.7 351.5,264.3 355.5,264.8 359.5,264.7 363.5,260.5 367.5,255.2 371.5,250.1 375.5,242.9 379.5,237.9 383.5,234.9 387.5,232.5 391.5,230.0 395.5,225.9 399.5,224.4 403.5,224.1 407.5,225.7 411.5,233.0 415.5,239.7 419.5,248.7 423.5,259.0 427.5,267.6 431.5,278.3 435.5,286.4 439.5,291.8 443.5,297.3 447.5,299.8 451.5,302.1 455.5,304.2 459.5,304.0 463.5,302.2 467.5,297.3 471.5,293.7 475.5,290.2 479.5,283.7 483.5,278.0 487.5,273.4 491.5,268.4 495.5,263.4 499.5,256.5 503.5,249.2 507.5,238.3 511.5,226.5 515.5,217.4 519.5,207.5 523.5,193.3 527.5,180.9 531.5,167.9 535.5,156.6 539.5,146.1 543.5,134.1 547.5,122.9 551.5,116.6 555.5,109.3 559.5,104.1 563.5,102.7 567.5,101.0 571.5,96.2 575.5,94.5 579.5,100.1 583.5,105.0 587.5,109.8 591.5,118.0 595.5,124.7 599.5,131.9 603.5,138.3 607.5,140.1 611.5,144.6 615.5,151.0 619.5,155.6 623.5,161.5 627.5,172.9 631.5,183.4 635.5,191.1 639.5,195.5 643.5,197.9 647.5,198.6 651.5,199.6 655.5,203.4 659.5,209.7 663.5,217.1 667.5,228.2 671.5,238.7 675.5,253.0 679.5,266.8 683.5,277.9 687.5,285.8 691.5,291.5 695.5,297.9 699.5,307.1 703.5,311.2 707.5,316.4 711.5,319.7 715.5,320.3 719.5,322.5 723.5,330.2 727.5,338.7 731.5,346.2 735.5,356.4 739.5,365.5 743.5,374.4 747.5,384.7 751.5,396.7 755.5,409.1 759.5,417.5 763.5,426.1 767.5,433.8 771.5,443.1 775.5,445.5 779.5,439.2 783.5,429.4 787.5,419.1 791.5,407.8 795.5,397.4 799.5,391.9 803.5,387.0 807.5,381.1 811.5,372.3 815.5,371.7 819.5,372.3 823.5,375.1 827.5,376.7 831.5,383.9 835.5,388.4 839.5,393.8 843.5,395.7 847.5,393.1 851.5,389.3 855.5,384.9 859.5,380.8 863.5,377.2 867.5,374.1 871.5,377.5 875.5,379.0 879.5,385.6 883.5,388.5 887.5,395.3 891.5,401.4 895.5,410.8 899.5,422.2 903.5,437.5 907.5,450.5 911.5,462.2 915.5,471.5 919.5,478.2 923.5,488.4 927.5,489.1 931.5,491.3 935.5,485.0 939.5,481.7 943.5,479.2 947.5,480.0 951.5,475.3 955.5,469.4 959.5,462.2 963.5,455.1 967.5,444.5 971.5,435.2 975.5,428.4 979.5,422.6 983.5,422.1 987.5,417.1 991.5,414.0 995.5,411.0 999.5,400.4 1003.5,389.8 1007.5,380.0 1011.5,375.1 1015.5,369.2 1019.5,365.5 1023.5,364.1 1027.5,362.9 1031.5,359.9 1035.5,356.2 1039.5,348.9 1043.5,345.7 1047.5,343.9 1051.5,344.3 1055.5,344.3 1059.5,342.9 1063.5,343.8 1067.5,342.6 1071.5,337.5 1075.5,335.7 1079.5,332.0 1083.5,328.9 1087.5,328.4 1091.5,327.2 1095.5,326.0 1099.5,324.6 1103.5,321.0 1107.5,315.9 1111.5,312.2 1115.5,309.2 1119.5,305.9 1123.5,301.3 1127.5,302.7 1131.5,307.1 1135.5,314.9 1139.5,322.8 1143.5,328.9 1147.5,332.6 1151.5,335.2 1155.5,336.3 1159.5,336.5 1163.5,336.9 1167.5,337.4 1171.5,339.5 1175.5,343.6 1179.5,351.0 1183.5,357.6 1187.5,358.4 1191.5,357.9 1195.5,353.4 1199.5,349.5 1203.5,345.8 1207.5,342.0 1211.5,338.5 1215.5,338.5 1219.5,338.9 1223.5,343.3 1227.5,347.1 1231.5,347.9 1235.5,345.9 1239.5,344.6 1243.5,342.0 1247.5,338.1 1251.5,338.4 1255.5,336.3 1259.5,334.5 1263.5,334.1 1267.5,333.5 1271.5,330.5 1275.5,327.6 1279.5,320.9 1283.5,313.3 1287.5,311.2 1291.5,313.3 1295.5,312.4 1299.5,313.5 1303.5,314.4 1307.5,315.4 1311.5,320.3 1315.5,327.7 1319.5,334.8 1323.5,342.4 1327.5,352.8 1331.5,362.1 1335.5,372.2 1339.5,383.1" fill="none" stroke="#ff0000" stroke-width="1"/>
<polyline points="3.5,306.2 7.5,308.4 11.5,305.7 15.5,298.1 19.5,288.9 23.5,278.6 27.5,281.2 31.5,277.9 35.5,276.2 39.5,277.4 43.5,283.0 47.5,278.4 51.5,291.7 55.5,306.0 59.5,322.9 63.5,337.7 67.5,349.4 71.5,348.5 75.5,345.3 79.5,331.9 83.5,316.0 87.5,311.8 91.5,311.0 95.5,312.0 99.5,317.6 103.5,330.6 107.5,329.4 111.5,336.0 115.5,348.9 119.5,355.8 123.5,358.3 127.5,378.3 131.5,384.5 135.5,385.7 139.5,401.6 143.5,403.3 147.5,393.6 151.5,394.4 155.5,392.4 159.5,391.3 163.5,404.2 167.5,426.8 171.5,436.2 175.5,442.8 179.5,437.6 183.5,437.9 187.5,421.4 191.5,402.6 195.5,381.6 199.5,361.2 203.5,335.8 207.5,314.6 211.5,301.5 215.5,299.1 219.5,300.1 223.5,303.6 227.5,312.3 231.5,323.8 235.5,325.2 239.5,319.5 243.5,322.1 247.5,318.1 251.5,311.1 255.5,306.3 259.5,302.5 263.5,285.9 267.5,275.5 271.5,265.9 275.5,261.4 279.5,254.1 283.5,242.6 287.5,230.2 291.5,217.8 295.5,205.3 299.5,204.8 303.5,210.6 307.5,221.3 311.5,235.4 315.5,248.6 319.5,256.8 323.5,264.0 327.5,267.3 331.5,265.0 335.5,266.8 339.5,274.0 343.5,277.9 347.5,278.5 351.5,280.2 355.5,271.0 359.5,256.2 363.5,237.5 367.5,222.8 371.5,209.0 375.5,195.6 379.5,188.8 383.5,195.6 387.5,201.5 391.5,210.4 395.5,226.4 399.5,240.1 403.5,248.4 407.5,261.1 411.5,279.7 415.5,294.7 419.5,305.5 423.5,320.3 427.5,326.4 431.5,322.2 435.5,319.8 439.5,316.4 443.5,308.9 447.5,300.4 451.5,293.0 455.5,289.9 459.5,282.6 463.5,274.8 467.5,272.7 471.5,271.3 475.5,266.1 479.5,263.2 483.5,258.6 487.5,255.2 491.5,249.0 495.5,241.6 499.5,232.7 503.5,219.8 507.5,195.0 511.5,172.4 515.5,153.8 519.5,137.8 523.5,116.0 527.5,110.4 531.5,102.1 535.5,93.0 539.5,86.4 543.5,89.6 547.5,86.6 551.5,97.9 555.5,100.0 559.5,102.3 563.5,107.1 567.5,111.0 571.5,96.7 575.5,96.5 579.5,104.9 583.5,116.9 587.5,126.8 591.5,154.0 595.5,171.0 599.5,178.5 603.5,179.8 607.5,182.9 611.5,174.5 615.5,175.9 619.5,173.5 623.5,175.9 627.5,188.4 631.5,205.0 635.5,217.1 639.5,228.6 643.5,228.8 647.5,226.0 651.5,216.4 655.5,213.0 659.5,219.6 663.5,236.5 667.5,257.3 671.5,285.3 675.5,312.3 679.5,335.8 683.5,358.9 687.5,366.2 691.5,365.2 695.5,354.4 699.5,341.7 703.5,319.0 707.5,302.3 711.5,291.7 715.5,282.3 719.5,279.5 723.5,310.6 727.5,347.7 731.5,386.6 735.5,436.8 739.5,479.5 743.5,490.1 747.5,493.8 751.5,495.9 755.5,489.4 759.5,464.5 763.5,447.0 767.5,429.3 771.5,412.2 775.5,381.5 779.5,371.4 783.5,357.0 787.5,345.3 791.5,338.0 795.5,344.8 799.5,357.8 803.5,375.1 807.5,389.7 811.5,389.8 815.5,392.4 819.5,392.1 823.5,395.9 827.5,399.9 831.5,413.9 835.5,418.1 839.5,417.1 843.5,403.1 847.5,383.7 851.5,360.1 855.5,348.1 859.5,338.6 863.5,337.8 867.5,336.9 871.5,359.2 875.5,375.7 879.5,409.6 883.5,431.5 887.5,473.2 891.5,485.2 895.5,505.9 899.5,505.4 903.5,520.9 907.5,514.6 911.5,518.1 915.5,508.7 919.5,494.6 923.5,479.3 927.5,467.3 931.5,457.2 935.5,447.3 939.5,441.4 943.5,447.7 947.5,459.7 951.5,461.2 955.5,461.6 959.5,466.3 963.5,447.0 967.5,418.8 971.5,396.4 975.5,380.0 979.5,368.5 983.5,375.1 987.5,380.5 991.5,387.8 995.5,392.5 999.5,385.4 1003.5,369.1 1007.5,357.2 1011.5,352.9 1015.5,349.2 1019.5,349.2 1023.5,347.0 1027.5,348.5 1031.5,337.4 1035.5,332.2 1039.5,328.5 1043.5,329.0 1047.5,334.7 1051.5,348.7 1055.5,352.1 1059.5,352.3 1063.5,351.9 1067.5,349.1 1071.5,330.2 1075.5,325.3 1079.5,316.6 1083.5,306.7 1087.5,297.8 1091.5,303.4 1095.5,301.3 1099.5,308.1 1103.5,312.6 1107.5,313.5 1111.5,310.0 1115.5,305.1 1119.5,299.6 1123.5,293.8 1127.5,293.3 1131.5,311.1 1135.5,332.6 1139.5,354.2 1143.5,375.1 1147.5,387.1 1151.5,380.1 1155.5,367.9 1159.5,350.9 1163.5,336.1 1167.5,323.4 1171.5,317.2 1175.5,320.1 1179.5,334.4 1183.5,351.2 1187.5,369.8 1191.5,384.1 1195.5,381.7 1199.5,371.1 1203.5,354.0 1207.5,334.2 1211.5,313.7 1215.5,309.1 1219.5,306.2 1223.5,316.3 1227.5,331.4 1231.5,346.4 1235.5,355.2 1239.5,367.4 1243.5,366.4 1247.5,359.1 1251.5,355.1 1255.5,344.0 1259.5,325.7 1263.5,312.1 1267.5,300.6 1271.5,287.2 1275.5,281.8 1279.5,278.2 1283.5,273.1 1287.5,283.9 1291.5,306.9 1295.5,325.1 1299.5,345.7 1303.5,362.1 1307.5,367.0 1311.5,363.6 1315.5,368.4 1319.5,371.6 1323.5,379.0 1327.5,392.0 1331.5,399.0 1335.5,402.8 1339.5,408.5" fill="none" stroke="#ffa500" stroke-width="1"/>
<rect x="3" y="44" width="1680" height="2" fill="#ff0000"/>
<rect x="3" y="153" width="1680" height="2" fill="#ff0000"/>
<rect x="3" y="281" width="1680" height="2" fill="#00ff00"/>
<rect x="3" y="445" width="1680" height="2" fill="#0000ff"/>
<rect x="3" y="536" width="1680" height="2" fill="#0000ff"/>
</g>
<g clip-path="url(#cr)">
<line x1="4" y1="622.5" x2="1683" y2="622.5" stroke="#c0c0c0" stroke-width="1" stroke-dasharray="3,3"/>
<line x1="4" y1="663.5" x2="1683" y2="663.5" stroke="#c0c0c0" stroke-width="1" stroke-dasharray="3,3"/>
<polyline points="3.5,654.1 7.5,646.8 11.5,647.0 15.5,643.3 19.5,642.6 23.5,639.2 27.5,649.7 31.5,642.2 35.5,641.0 39.5,644.1 43.5,646.4 47.5,643.6 51.5,655.9 55.5,656.0 59.5,659.9 63.5,659.6 67.5,652.0 71.5,651.3 75.5,648.2 79.5,641.6 83.5,638.7 87.5,646.2 91.5,649.0 95.5,648.6 99.5,647.6 103.5,652.8 107.5,642.9 111.5,652.7 115.5,656.9 119.5,649.8 123.5,650.0 127.5,656.9 131.5,653.6 135.5,654.2 139.5,659.4 143.5,646.3 147.5,644.9 151.5,650.1 155.5,648.3 159.5,654.1 163.5,654.2 167.5,658.7 171.5,653.3 175.5,649.0 179.5,646.7 183.5,650.6 187.5,643.5 191.5,638.1 195.5,633.9 199.5,632.7 203.5,633.4 207.5,630.6 211.5,630.7 215.5,634.2 219.5,635.6 223.5,638.7 227.5,639.2 231.5,642.1 235.5,636.4 239.5,632.1 243.5,642.8 247.5,638.2 251.5,638.2 255.5,634.9 259.5,631.8 263.5,630.9 267.5,631.0 271.5,631.9 275.5,632.8 279.5,627.1 283.5,623.6 287.5,623.1 291.5,624.3 295.5,625.1 299.5,631.6 303.5,632.6 307.5,638.2 311.5,643.2 315.5,642.8 319.5,642.1 323.5,641.7 327.5,642.2 331.5,640.2 335.5,645.7 339.5,651.8 343.5,646.3 347.5,642.2 351.5,641.8 355.5,633.4 359.5,632.5 363.5,625.6 367.5,627.3 371.5,628.2 375.5,622.7 379.5,631.6 383.5,639.4 387.5,639.6 391.5,643.7 395.5,644.3 399.5,648.3 403.5,648.9 407.5,653.8 411.5,661.3 415.5,657.1 419.5,656.0 423.5,659.7 427.5,654.0 431.5,652.6 435.5,650.9 439.5,648.5 443.5,649.1 447.5,642.2 451.5,642.5 455.5,646.3 459.5,638.8 463.5,638.8 467.5,639.8 471.5,641.1 475.5,639.9 479.5,635.0 483.5,632.8 487.5,636.3 491.5,633.6 495.5,631.1 499.5,625.6 503.5,620.7 507.5,614.6 511.5,614.9 515.5,618.5 519.5,617.1 523.5,611.3 527.5,621.1 531.5,619.7 535.5,621.5 539.5,621.8 543.5,620.5 547.5,620.8 551.5,637.8 555.5,631.1 559.5,631.6 563.5,632.5 567.5,631.7 571.5,626.5 575.5,634.5 579.5,643.8 583.5,647.6 587.5,644.7 591.5,653.1 595.5,649.1 599.5,648.6 603.5,646.7 607.5,645.4 611.5,644.9 615.5,650.1 619.5,645.3 623.5,648.1 627.5,655.1 631.5,657.5 635.5,658.3 639.5,652.3 643.5,643.8 647.5,648.7 651.5,645.6 655.5,651.1 659.5,654.5 663.5,655.7 667.5,661.4 671.5,663.2 675.5,666.1 679.5,666.7 683.5,667.4 687.5,660.3 691.5,655.4 695.5,651.9 699.5,651.5 703.5,643.5 707.5,643.5 711.5,644.9 715.5,642.7 719.5,648.4 723.5,663.3 727.5,665.7 731.5,666.9 735.5,670.0 739.5,668.7 743.5,662.1 747.5,661.2 751.5,662.0 755.5,662.3 759.5,644.8 763.5,645.4 767.5,644.6 771.5,646.3 775.5,637.0 779.5,637.6 783.5,635.4 787.5,636.9 791.5,642.4 795.5,643.2 799.5,648.6 803.5,649.2 807.5,648.2 811.5,641.3 815.5,644.3 819.5,647.6 823.5,651.3 827.5,650.4 831.5,652.1 835.5,645.7 839.5,644.7 843.5,637.7 847.5,633.1 851.5,631.8 855.5,637.2 859.5,638.6 863.5,639.3 867.5,634.0 871.5,651.2 875.5,650.6 879.5,660.4 883.5,651.7 887.5,657.6 891.5,652.0 895.5,655.4 899.5,653.8 903.5,655.9 907.5,650.2 911.5,650.9 915.5,647.6 919.5,643.2 923.5,645.3 927.5,642.1 931.5,644.2 935.5,641.2 939.5,639.3 943.5,649.0 947.5,649.4 951.5,644.5 955.5,640.8 959.5,641.7 963.5,636.7 967.5,632.4 971.5,631.7 975.5,631.8 979.5,637.0 983.5,644.0 987.5,638.1 991.5,638.5 995.5,637.0 999.5,633.7 1003.5,634.1 1007.5,631.2 1011.5,638.1 1015.5,636.9 1019.5,635.6 1023.5,634.4 1027.5,633.7 1031.5,630.5 1035.5,634.9 1039.5,634.6 1043.5,637.2 1047.5,641.4 1051.5,644.9 1055.5,639.0 1059.5,636.2 1063.5,638.0 1067.5,639.9 1071.5,630.1 1075.5,637.7 1079.5,632.7 1083.5,633.2 1087.5,636.0 1091.5,637.9 1095.5,637.9 1099.5,639.5 1103.5,637.9 1107.5,637.1 1111.5,634.7 1115.5,633.4 1119.5,634.7 1123.5,632.7 1127.5,638.9 1131.5,654.5 1135.5,656.3 1139.5,657.0 1143.5,653.6 1147.5,648.1 1151.5,644.7 1155.5,641.7 1159.5,637.8 1163.5,637.4 1167.5,635.1 1171.5,639.3 1175.5,646.4 1179.5,652.9 1183.5,654.7 1187.5,653.8 1191.5,652.4 1195.5,640.8 1199.5,639.9 1203.5,636.0 1207.5,633.0 1211.5,631.6 1215.5,638.6 1219.5,639.4 1223.5,648.4 1227.5,649.7 1231.5,647.5 1235.5,647.1 1239.5,651.1 1243.5,645.8 1247.5,640.6 1251.5,642.2 1255.5,635.0 1259.5,632.3 1263.5,632.8 1267.5,630.5 1271.5,630.1 1275.5,630.9 1279.5,629.5 1283.5,628.5 1287.5,646.3 1291.5,656.0 1295.5,651.3 1299.5,652.0 1303.5,646.4 1307.5,647.9 1311.5,650.9 1315.5,654.0 1319.5,653.3 1323.5,651.9 1327.5,658.0 1331.5,654.4 1335.5,655.0 1339.5,656.1" fill="none" stroke="#1e90ff" stroke-width="1"/>
</g>
<g clip-path="url(#cd)">
<rect x="3" y="741" width="1" height="2" fill="#c0c0c0"/>
<rect x="7" y="742" width="1" height="1" fill="#c0c0c0"/>
<rect x="11" y="742" width="1" height="2" fill="#c0c0c0"/>
<rect x="15" y="742" width="1" height="2" fill="#c0c0c0"/>
<rect x="19" y="742" width="1" height="2" fill="#c0c0c0"/>
<rect x="23" y="742" width="1" height="1" fill="#c0c0c0"/>
<rect x="27" y="742" width="1" height="2" fill="#c0c0c0"/>
<rect x="31" y="742" width="1" height="2" fill="#c0c0c0"/>
<rect x="35" y="742" width="1" height="1" fill="#c0c0c0"/>
<rect x="39" y="742" width="1" height="1" fill="#c0c0c0"/>
<rect x="43" y="742" width="1" height="2" fill="#c0c0c0"/>
<rect x="47" y="742" width="1" height="2" fill="#c0c0c0"/>
<rect x="51" y="742" width="1" height="6" fill="#c0c0c0"/>
<rect x="55" y="742" width="1" height="9" fill="#c0c0c0"/>
<rect x="59" y="742" width="1" height="13" fill="#c0c0c0"/>
<rect x="63" y="742" width="1" height="15" fill="#c0c0c0"/>
<rect x="67" y="742" width="1" height="16" fill="#c0c0c0"/>
<rect x="71" y="742" width="1" height="16" fill="#c0c0c0"/>
<rect x="75" y="742" width="1" height="15" fill="#c0c0c0"/>
<rect x="79" y="742" width="1" height="12" fill="#c0c0c0"/>
<rect x="83" y="742" width="1" height="9" fill="#c0c0c0"/>
<rect x="87" y="742" width="1" height="9" fill="#c0c0c0"/>
<rect x="91" y="742" width="1" height="9" fill="#c0c0c0"/>
<rect x="95" y="742" width="1" height="9" fill="#c0c0c0"/>
<rect x="99" y="742" width="1" height="9" fill="#c0c0c0"/>
<rect x="103" y="742" width="1" height="11" fill="#c0c0c0"/>
<rect x="107" y="742" width="1" height="9" fill="#c0c0c0"/>
<rect x="111" y="742" width="1" height="11" fill="#c0c0c0"/>
<rect x="115" y="742" width="1" height="14" fill="#c0c0c0"/>
<rect x="119" y="742" width="1" height="15" fill="#c0c0c0"/>
<rect x="123" y="742" width="1" height="15" fill="#c0c0c0"/>
<rect x="127" y="742" width="1" height="18" fill="#c0c0c0"/>
<rect x="131" y="742" width="1" height="19" fill="#c0c0c0"/>
<rect x="135" y="742" width="1" height="20" fill="#c0c0c0"/>
<rect x="139" y="742" width="1" height="24" fill="#c0c0c0"/>
<rect x="143" y="742" width="1" height="21" fill="#c0c0c0"/>
<rect x="147" y="742" width="1" height="19" fill="#c0c0c0"/>
<rect x="151" y="742" width="1" height="19" fill="#c0c0c0"/>
<rect x="155" y="742" width="1" height="18" fill="#c0c0c0"/>
<rect x="159" y="742" width="1" height="21" fill="#c0c0c0"/>
<rect x="163" y="742" width="1" height="22" fill="#c0c0c0"/>
<rect x="167" y="742" width="1" height="26" fill="#c0c0c0"/>
<rect x="171" y="742" width="1" height="26" fill="#c0c0c0"/>
<rect x="175" y="742" width="1" height="25" fill="#c0c0c0"/>
<rect x="179" y="742" width="1" height="23" fill="#c0c0c0"/>
<rect x="183" y="742" width="1" height="22" fill="#c0c0c0"/>
<rect x="187" y="742" width="1" height="19" fill="#c0c0c0"/>
<rect x="191" y="742" width="1" height="14" fill="#c0c0c0"/>
<rect x="195" y="742" width="1" height="7" fill="#c0c0c0"/>
<rect x="199" y="742" width="1" height="1" fill="#c0c0c0"/>
<rect x="203" y="738" width="1" height="5" fill="#c0c0c0"/>
<rect x="207" y="733" width="1" height="10" fill="#c0c0c0"/>
<rect x="211" y="729" width="1" height="14" fill="#c0c0c0"/>
<rect x="215" y="728" width="1" height="15" fill="#c0c0c0"/>
<rect x="219" y="727" width="1" height="16" fill="#c0c0c0"/>
<rect x="223" y="728" width="1" height="15" fill="#c0c0c0"/>
<rect x="227" y="729" width="1" height="14" fill="#c0c0c0"/>
<rect x="231" y="730" width="1" height="13" fill="#c0c0c0"/>
<rect x="235" y="730" width="1" height="13" fill="#c0c0c0"/>
<rect x="239" y="727" width="1" height="16" fill="#c0c0c0"/>
<rect x="243" y="730" width="1" height="13" fill="#c0c0c0"/>
<rect x="247" y="729" width="1" height="14" fill="#c0c0c0"/>
<rect x="251" y="729" width="1" height="14" fill="#c0c0c0"/>
<rect x="255" y="728" width="1" height="15" fill="#c0c0c0"/>
<rect x="259" y="726" width="1" height="17" fill="#c0c0c0"/>
<rect x="263" y="724" width="1" height="19" fill="#c0c0c0"/>
<rect x="267" y="722" width="1" height="21" fill="#c0c0c0"/>
<rect x="271" y="722" width="1" height="21" fill="#c0c0c0"/>
<rect x="275" y="722" width="1" height="21" fill="#c0c0c0"/>
<rect x="279" y="719" width="1" height="24" fill="#c0c0c0"/>
<rect x="283" y="716" width="1" height="27" fill="#c0c0c0"/>
<rect x="287" y="714" width="1" height="29" fill="#c0c0c0"/>
<rect x="291" y="712" width="1" height="31" fill="#c0c0c0"/>
<rect x="295" y="712" width="1" height="31" fill="#c0c0c0"/>
<rect x="299" y="713" width="1" height="30" fill="#c0c0c0"/>
<rect x="303" y="715" width="1" height="28" fill="#c0c0c0"/>
<rect x="307" y="717" width="1" height="26" fill="#c0c0c0"/>
<rect x="311" y="721" width="1" height="22" fill="#c0c0c0"/>
<rect x="315" y="725" width="1" height="18" fill="#c0c0c0"/>
<rect x="319" y="727" width="1" height="16" fill="#c0c0c0"/>
<rect x="323" y="729" width="1" height="14" fill="#c0c0c0"/>
<rect x="327" y="731" width="1" height="12" fill="#c0c0c0"/>
<rect x="331" y="732" width="1" height="11" fill="#c0c0c0"/>
<rect x="335" y="734" width="1" height="9" fill="#c0c0c0"/>
<rect x="339" y="737" width="1" height="6" fill="#c0c0c0"/>
<rect x="343" y="739" width="1" height="4" fill="#c0c0c0"/>
<rect x="347" y="739" width="1" height="4" fill="#c0c0c0"/>
<rect x="351" y="739" width="1" height="4" fill="#c0c0c0"/>
<rect x="355" y="737" width="1" height="6" fill="#c0c0c0"/>
<rect x="359" y="735" width="1" height="8" fill="#c0c0c0"/>
<rect x="363" y="732" width="1" height="11" fill="#c0c0c0"/>
<rect x="367" y="729" width="1" height="14" fill="#c0c0c0"/>
<rect x="371" y="727" width="1" height="16" fill="#c0c0c0"/>
<rect x="375" y="724" width="1" height="19" fill="#c0c0c0"/>
<rect x="379" y="724" width="1" height="19" fill="#c0c0c0"/>
<rect x="383" y="725" width="1" height="18" fill="#c0c0c0"/>
<rect x="387" y="727" width="1" height="16" fill="#c0c0c0"/>
<rect x="391" y="729" width="1" height="14" fill="#c0c0c0"/>
<rect x="395" y="732" width="1" height="11" fill="#c0c0c0"/>
<rect x="399" y="735" width="1" height="8" fill="#c0c0c0"/>
<rect x="403" y="737" width="1" height="6" fill="#c0c0c0"/>
<rect x="407" y="741" width="1" height="2" fill="#c0c0c0"/>
<rect x="411" y="742" width="1" height="6" fill="#c0c0c0"/>
<rect x="415" y="742" width="1" height="9" fill="#c0c0c0"/>
<rect x="419" y="742" width="1" height="12" fill="#c0c0c0"/>
<rect x="423" y="742" width="1" height="15" fill="#c0c0c0"/>
<rect x="427" y="742" width="1" height="16" fill="#c0c0c0"/>
<rect x="431" y="742" width="1" height="16" fill="#c0c0c0"/>
<rect x="435" y="742" width="1" height="16" fill="#c0c0c0"/>
<rect x="439" y="742" width="1" height="15" fill="#c0c0c0"/>
<rect x="443" y="742" width="1" height="14" fill="#c0c0c0"/>
<rect x="447" y="742" width="1" height="12" fill="#c0c0c0"/>
<rect x="451" y="742" width="1" height="10" fill="#c0c0c0"/>
<rect x="455" y="742" width="1" height="9" fill="#c0c0c0"/>
<rect x="459" y="742" width="1" height="7" fill="#c0c0c0"/>
<rect x="463" y="742" width="1" height="5" fill="#c0c0c0"/>
<rect x="467" y="742" width="1" height="3" fill="#c0c0c0"/>
<rect x="471" y="742" width="1" height="3" fill="#c0c0c0"/>
<rect x="475" y="742" width="1" height="2" fill="#c0c0c0"/>
<rect x="479" y="741" width="1" height="2" fill="#c0c0c0"/>
<rect x="483" y="739" width="1" height="4" fill="#c0c0c0"/>
<rect x="487" y="738" width="1" height="5" fill="#c0c0c0"/>
<rect x="491" y="736" width="1" height="7" fill="#c0c0c0"/>
<rect x="495" y="735" width="1" height="8" fill="#c0c0c0"/>
<rect x="499" y="732" width="1" height="11" fill="#c0c0c0"/>
<rect x="503" y="728" width="1" height="15" fill="#c0c0c0"/>
<rect x="507" y="722" width="1" height="21" fill="#c0c0c0"/>
<rect x="511" y="717" width="1" height="26" fill="#c0c0c0"/>
<rect x="515" y="715" width="1" height="28" fill="#c0c0c0"/>
<rect x="519" y="712" width="1" height="31" fill="#c0c0c0"/>
<rect x="523" y="707" width="1" height="36" fill="#c0c0c0"/>
<rect x="527" y="705" width="1" height="38" fill="#c0c0c0"/>
<rect x="531" y="703" width="1" height="40" fill="#c0c0c0"/>
<rect x="535" y="703" width="1" height="40" fill="#c0c0c0"/>
<rect x="539" y="703" width="1" height="40" fill="#c0c0c0"/>
<rect x="543" y="703" width="1" height="40" fill="#c0c0c0"/>
<rect x="547" y="703" width="1" height="40" fill="#c0c0c0"/>
<rect x="551" y="707" width="1" height="36" fill="#c0c0c0"/>
<rect x="555" y="709" width="1" height="34" fill="#c0c0c0"/>
<rect x="559" y="710" width="1" height="33" fill="#c0c0c0"/>
<rect x="563" y="712" width="1" height="31" fill="#c0c0c0"/>
<rect x="567" y="713" width="1" height="30" fill="#c0c0c0"/>
<rect x="571" y="713" width="1" height="30" fill="#c0c0c0"/>
<rect x="575" y="715" width="1" height="28" fill="#c0c0c0"/>
<rect x="579" y="719" width="1" height="24" fill="#c0c0c0"/>
<rect x="583" y="724" width="1" height="19" fill="#c0c0c0"/>
<rect x="587" y="728" width="1" height="15" fill="#c0c0c0"/>
<rect x="591" y="734" width="1" height="9" fill="#c0c0c0"/>
<rect x="595" y="738" width="1" height="5" fill="#c0c0c0"/>
<rect x="599" y="740" width="1" height="3" fill="#c0c0c0"/>
<rect x="603" y="742" width="1" height="1" fill="#c0c0c0"/>
<rect x="607" y="742" width="1" height="2" fill="#c0c0c0"/>
<rect x="611" y="742" width="1" height="2" fill="#c0c0c0"/>
<rect x="615" y="742" width="1" height="4" fill="#c0c0c0"/>
<rect x="619" y="742" width="1" height="5" fill="#c0c0c0"/>
<rect x="623" y="742" width="1" height="6" fill="#c0c0c0"/>
<rect x="627" y="742" width="1" height="9" fill="#c0c0c0"/>
<rect x="631" y="742" width="1" height="13" fill="#c0c0c0"/>
<rect x="635" y="742" width="1" height="16" fill="#c0c0c0"/>
<rect x="639" y="742" width="1" height="17" fill="#c0c0c0"/>
<rect x="643" y="742" width="1" height="15" fill="#c0c0c0"/>
<rect x="647" y="742" width="1" height="15" fill="#c0c0c0"/>
<rect x="651" y="742" width="1" height="14" fill="#c0c0c0"/>
<rect x="655" y="742" width="1" height="15" fill="#c0c0c0"/>
<rect x="659" y="742" width="1" height="17" fill="#c0c0c0"/>
<rect x="663" y="742" width="1" height="20" fill="#c0c0c0"/>
<rect x="667" y="742" width="1" height="24" fill="#c0c0c0"/>
<rect x="671" y="742" width="1" height="29" fill="#c0c0c0"/>
<rect x="675" y="742" width="1" height="34" fill="#c0c0c0"/>
<rect x="679" y="742" width="1" height="39" fill="#c0c0c0"/>
<rect x="683" y="742" width="1" height="42" fill="#c0c0c0"/>
<rect x="687" y="742" width="1" height="42" fill="#c0c0c0"/>
<rect x="691" y="742" width="1" height="41" fill="#c0c0c0"/>
<rect x="695" y="742" width="1" height="38" fill="#c0c0c0"/>
<rect x="699" y="742" width="1" height="35" fill="#c0c0c0"/>
<rect x="703" y="742" width="1" height="30" fill="#c0c0c0"/>
<rect x="707" y="742" width="1" height="25" fill="#c0c0c0"/>
<rect x="711" y="742" width="1" height="22" fill="#c0c0c0"/>
<rect x="715" y="742" width="1" height="19" fill="#c0c0c0"/>
<rect x="719" y="742" width="1" height="18" fill="#c0c0c0"/>
<rect x="723" y="742" width="1" height="25" fill="#c0c0c0"/>
<rect x="727" y="742" width="1" height="32" fill="#c0c0c0"/>
<rect x="731" y="742" width="1" height="39" fill="#c0c0c0"/>
<rect x="735" y="742" width="1" height="46" fill="#c0c0c0"/>
<rect x="739" y="742" width="1" height="51" fill="#c0c0c0"/>
<rect x="743" y="742" width="1" height="52" fill="#c0c0c0"/>
<rect x="747" y="742" width="1" height="52" fill="#c0c0c0"/>
<rect x="751" y="742" width="1" height="52" fill="#c0c0c0"/>
<rect x="755" y="742" width="1" height="52" fill="#c0c0c0"/>
<rect x="759" y="742" width="1" height="45" fill="#c0c0c0"/>
<rect x="763" y="742" width="1" height="39" fill="#c0c0c0"/>
<rect x="767" y="742" width="1" height="33" fill="#c0c0c0"/>
<rect x="771" y="742" width="1" height="30" fill="#c0c0c0"/>
<rect x="775" y="742" width="1" height="22" fill="#c0c0c0"/>
<rect x="779" y="742" width="1" height="16" fill="#c0c0c0"/>
<rect x="783" y="742" width="1" height="10" fill="#c0c0c0"/>
<rect x="787" y="742" width="1" height="6" fill="#c0c0c0"/>
<rect x="791" y="742" width="1" height="5" fill="#c0c0c0"/>
<rect x="795" y="742" width="1" height="4" fill="#c0c0c0"/>
<rect x="799" y="742" width="1" height="6" fill="#c0c0c0"/>
<rect x="803" y="742" width="1" height="8" fill="#c0c0c0"/>
<rect x="807" y="742" width="1" height="8" fill="#c0c0c0"/>
<rect x="811" y="742" width="1" height="6" fill="#c0c0c0"/>
<rect x="815" y="742" width="1" height="6" fill="#c0c0c0"/>
<rect x="819" y="742" width="1" height="7" fill="#c0c0c0"/>
<rect x="823" y="742" width="1" height="9" fill="#c0c0c0"/>
<rect x="827" y="742" width="1" height="10" fill="#c0c0c0"/>
<rect x="831" y="742" width="1" height="12" fill="#c0c0c0"/>
<rect x="835" y="742" width="1" height="11" fill="#c0c0c0"/>
<rect x="839" y="742" width="1" height="10" fill="#c0c0c0"/>
<rect x="843" y="742" width="1" height="7" fill="#c0c0c0"/>
<rect x="847" y="742" width="1" height="2" fill="#c0c0c0"/>
<rect x="851" y="738" width="1" height="5" fill="#c0c0c0"/>
<rect x="855" y="737" width="1" height="6" fill="#c0c0c0"/>
<rect x="859" y="736" width="1" height="7" fill="#c0c0c0"/>
<rect x="863" y="735" width="1" height="8" fill="#c0c0c0"/>
<rect x="867" y="733" width="1" height="10" fill="#c0c0c0"/>
<rect x="871" y="738" width="1" height="5" fill="#c0c0c0"/>
<rect x="875" y="742" width="1" height="1" fill="#c0c0c0"/>
<rect x="879" y="742" width="1" height="10" fill="#c0c0c0"/>
<rect x="883" y="742" width="1" height="14" fill="#c0c0c0"/>
<rect x="887" y="742" width="1" height="20" fill="#c0c0c0"/>
<rect x="891" y="742" width="1" height="23" fill="#c0c0c0"/>
<rect x="895" y="742" width="1" height="27" fill="#c0c0c0"/>
<rect x="899" y="742" width="1" height="29" fill="#c0c0c0"/>
<rect x="903" y="742" width="1" height="32" fill="#c0c0c0"/>
<rect x="907" y="742" width="1" height="31" fill="#c0c0c0"/>
<rect x="911" y="742" width="1" height="31" fill="#c0c0c0"/>
<rect x="915" y="742" width="1" height="29" fill="#c0c0c0"/>
<rect x="919" y="742" width="1" height="24" fill="#c0c0c0"/>
<rect x="923" y="742" width="1" height="22" fill="#c0c0c0"/>
<rect x="927" y="742" width="1" height="18" fill="#c0c0c0"/>
<rect x="931" y="742" width="1" height="16" fill="#c0c0c0"/>
<rect x="935" y="742" width="1" height="12" fill="#c0c0c0"/>
<rect x="939" y="742" width="1" height="9" fill="#c0c0c0"/>
<rect x="943" y="742" width="1" height="11" fill="#c0c0c0"/>
<rect x="947" y="742" width="1" height="12" fill="#c0c0c0"/>
<rect x="951" y="742" width="1" height="11" fill="#c0c0c0"/>
<rect x="955" y="742" width="1" height="8" fill="#c0c0c0"/>
<rect x="959" y="742" width="1" height="7" fill="#c0c0c0"/>
<rect x="963" y="742" width="1" height="2" fill="#c0c0c0"/>
<rect x="967" y="737" width="1" height="6" fill="#c0c0c0"/>
<rect x="971" y="732" width="1" height="11" fill="#c0c0c0"/>
<rect x="975" y="729" width="1" height="14" fill="#c0c0c0"/>
<rect x="979" y="728" width="1" height="15" fill="#c0c0c0"/>
<rect x="983" y="730" width="1" height="13" fill="#c0c0c0"/>
<rect x="987" y="730" width="1" height="13" fill="#c0c0c0"/>
<rect x="991" y="729" width="1" height="14" fill="#c0c0c0"/>
<rect x="995" y="728" width="1" height="15" fill="#c0c0c0"/>
<rect x="999" y="726" width="1" height="17" fill="#c0c0c0"/>
<rect x="1003" y="724" width="1" height="19" fill="#c0c0c0"/>
<rect x="1007" y="722" width="1" height="21" fill="#c0c0c0"/>
<rect x="1011" y="723" width="1" height="20" fill="#c0c0c0"/>
<rect x="1015" y="723" width="1" height="20" fill="#c0c0c0"/>
<rect x="1019" y="723" width="1" height="20" fill="#c0c0c0"/>
<rect x="1023" y="722" width="1" height="21" fill="#c0c0c0"/>
<rect x="1027" y="722" width="1" height="21" fill="#c0c0c0"/>
<rect x="1031" y="720" width="1" height="23" fill="#c0c0c0"/>
<rect x="1035" y="721" width="1" height="22" fill="#c0c0c0"/>
<rect x="1039" y="721" width="1" height="22" fill="#c0c0c0"/>
<rect x="1043" y="722" width="1" height="21" fill="#c0c0c0"/>
<rect x="1047" y="725" width="1" height="18" fill="#c0c0c0"/>
<rect x="1051" y="728" width="1" height="15" fill="#c0c0c0"/>
<rect x="1055" y="729" width="1" height="14" fill="#c0c0c0"/>
<rect x="1059" y="728" width="1" height="15" fill="#c0c0c0"/>
<rect x="1063" y="729" width="1" height="14" fill="#c0c0c0"/>
<rect x="1067" y="730" width="1" height="13" fill="#c0c0c0"/>
<rect x="1071" y="727" width="1" height="16" fill="#c0c0c0"/>
<rect x="1075" y="727" width="1" height="16" fill="#c0c0c0"/>
<rect x="1079" y="725" width="1" height="18" fill="#c0c0c0"/>
<rect x="1083" y="724" width="1" height="19" fill="#c0c0c0"/>
<rect x="1087" y="724" width="1" height="19" fill="#c0c0c0"/>
<rect x="1091" y="725" width="1" height="18" fill="#c0c0c0"/>
<rect x="1095" y="726" width="1" height="17" fill="#c0c0c0"/>
<rect x="1099" y="727" width="1" height="16" fill="#c0c0c0"/>
<rect x="1103" y="728" width="1" height="15" fill="#c0c0c0"/>
<rect x="1107" y="728" width="1" height="15" fill="#c0c0c0"/>
<rect x="1111" y="728" width="1" height="15" fill="#c0c0c0"/>
<rect x="1115" y="727" width="1" height="16" fill="#c0c0c0"/>
<rect x="1119" y="727" width="1" height="16" fill="#c0c0c0"/>
<rect x="1123" y="727" width="1" height="16" fill="#c0c0c0"/>
<rect x="1127" y="728" width="1" height="15" fill="#c0c0c0"/>
<rect x="1131" y="734" width="1" height="9" fill="#c0c0c0"/>
<rect x="1135" y="740" width="1" height="3" fill="#c0c0c0"/>
<rect x="1139" y="742" width="1" height="4" fill="#c0c0c0"/>
<rect x="1143" y="742" width="1" height="7" fill="#c0c0c0"/>
<rect x="1147" y="742" width="1" height="7" fill="#c0c0c0"/>
<rect x="1151" y="742" width="1" height="7" fill="#c0c0c0"/>
<rect x="1155" y="742" width="1" height="6" fill="#c0c0c0"/>
<rect x="1159" y="742" width="1" height="3" fill="#c0c0c0"/>
<rect x="1163" y="742" width="1" height="1" fill="#c0c0c0"/>
<rect x="1167" y="740" width="1" height="3" fill="#c0c0c0"/>
<rect x="1171" y="739" width="1" height="4" fill="#c0c0c0"/>
<rect x="1175" y="740" width="1" height="3" fill="#c0c0c0"/>
<rect x="1179" y="742" width="1" height="3" fill="#c0c0c0"/>
<rect x="1183" y="742" width="1" height="6" fill="#c0c0c0"/>
<rect x="1187" y="742" width="1" height="9" fill="#c0c0c0"/>
<rect x="1191" y="742" width="1" height="10" fill="#c0c0c0"/>
<rect x="1195" y="742" width="1" height="8" fill="#c0c0c0"/>
<rect x="1199" y="742" width="1" height="6" fill="#c0c0c0"/>
<rect x="1203" y="742" width="1" height="3" fill="#c0c0c0"/>
<rect x="1207" y="740" width="1" height="3" fill="#c0c0c0"/>
<rect x="1211" y="737" width="1" height="6" fill="#c0c0c0"/>
<rect x="1215" y="736" width="1" height="7" fill="#c0c0c0"/>
<rect x="1219" y="736" width="1" height="7" fill="#c0c0c0"/>
<rect x="1223" y="739" width="1" height="4" fill="#c0c0c0"/>
<rect x="1227" y="741" width="1" height="2" fill="#c0c0c0"/>
<rect x="1231" y="742" width="1" height="2" fill="#c0c0c0"/>
<rect x="1235" y="742" width="1" height="3" fill="#c0c0c0"/>
<rect x="1239" y="742" width="1" height="5" fill="#c0c0c0"/>
<rect x="1243" y="742" width="1" height="5" fill="#c0c0c0"/>
<rect x="1247" y="742" width="1" height="4" fill="#c0c0c0"/>
<rect x="1251" y="742" width="1" height="3" fill="#c0c0c0"/>
<rect x="1255" y="741" width="1" height="2" fill="#c0c0c0"/>
<rect x="1259" y="738" width="1" height="5" fill="#c0c0c0"/>
<rect x="1263" y="735" width="1" height="8" fill="#c0c0c0"/>
<rect x="1267" y="733" width="1" height="10" fill="#c0c0c0"/>
<rect x="1271" y="730" width="1" height="13" fill="#c0c0c0"/>
<rect x="1275" y="729" width="1" height="14" fill="#c0c0c0"/>
<rect x="1279" y="728" width="1" height="15" fill="#c0c0c0"/>
<rect x="1283" y="726" width="1" height="17" fill="#c0c0c0"/>
<rect x="1287" y="730" width="1" height="13" fill="#c0c0c0"/>
<rect x="1291" y="736" width="1" height="7" fill="#c0c0c0"/>
<rect x="1295" y="740" width="1" height="3" fill="#c0c0c0"/>
<rect x="1299" y="742" width="1" height="2" fill="#c0c0c0"/>
<rect x="1303" y="742" width="1" height="3" fill="#c0c0c0"/>
<rect x="1307" y="742" width="1" height="5" fill="#c0c0c0"/>
<rect x="1311" y="742" width="1" height="7" fill="#c0c0c0"/>
<rect x="1315" y="742" width="1" height="9" fill="#c0c0c0"/>
<rect x="1319" y="742" width="1" height="11" fill="#c0c0c0"/>
<rect x="1323" y="742" width="1" height="12" fill="#c0c0c0"/>
<rect x="1327" y="742" width="1" height="15" fill="#c0c0c0"/>
<rect x="1331" y="742" width="1" height="17" fill="#c0c0c0"/>
<rect x="1335" y="742" width="1" height="18" fill="#c0c0c0"/>
<rect x="1339" y="742" width="1" height="19" fill="#c0c0c0"/>
<polyline points="3.5,722.9 7.5,726.5 11.5,730.3 15.5,733.8 19.5,736.9 23.5,739.2 27.5,741.1 31.5,742.3 35.5,742.8 39.5,743.0 43.5,743.2 47.5,743.2 51.5,743.7 55.5,744.5 59.5,745.8 63.5,747.2 67.5,748.8 71.5,750.4 75.5,751.8 79.5,752.9 83.5,753.7 87.5,754.0 91.5,754.0 95.5,753.7 99.5,753.0 103.5,752.4 107.5,751.7 111.5,751.3 115.5,751.5 119.5,752.2 123.5,752.9 127.5,753.9 131.5,755.0 135.5,756.2 139.5,757.7 143.5,759.1 147.5,760.0 151.5,760.5 155.5,760.9 159.5,761.5 163.5,762.0 167.5,762.6 171.5,763.3 175.5,763.4 179.5,763.5 183.5,763.9 187.5,763.9 191.5,763.4 195.5,762.0 199.5,759.7 203.5,756.5 207.5,752.7 211.5,748.7 215.5,744.7 219.5,740.6 223.5,737.0 227.5,734.1 231.5,732.1 235.5,730.7 239.5,729.5 243.5,729.1 247.5,729.1 251.5,729.3 255.5,729.4 259.5,729.2 263.5,728.7 267.5,727.8 271.5,726.9 275.5,726.3 279.5,725.1 283.5,723.7 287.5,721.9 291.5,720.2 295.5,718.6 299.5,717.4 303.5,716.5 307.5,716.1 311.5,716.0 315.5,716.6 319.5,717.8 323.5,719.5 327.5,721.6 331.5,723.8 335.5,726.2 339.5,728.7 343.5,731.1 347.5,733.1 351.5,734.7 355.5,735.9 359.5,736.6 363.5,736.6 367.5,736.3 371.5,735.6 375.5,734.1 379.5,732.3 383.5,730.8 387.5,729.4 391.5,728.5 395.5,728.1 399.5,728.5 403.5,729.4 407.5,730.9 411.5,733.5 415.5,736.4 419.5,739.5 423.5,742.7 427.5,745.8 431.5,748.7 435.5,751.1 439.5,753.2 443.5,754.8 447.5,755.5 451.5,755.6 455.5,755.4 459.5,754.5 463.5,753.2 467.5,751.8 471.5,750.3 475.5,748.8 479.5,747.1 483.5,745.5 487.5,744.0 491.5,742.5 495.5,741.0 499.5,739.4 503.5,737.6 507.5,735.2 511.5,732.4 515.5,729.5 519.5,726.5 523.5,723.1 527.5,719.6 531.5,716.2 535.5,712.9 539.5,710.1 543.5,708.0 547.5,706.4 551.5,705.5 555.5,705.2 559.5,705.5 563.5,706.3 567.5,707.5 571.5,708.6 575.5,709.9 579.5,711.8 583.5,714.2 587.5,716.5 591.5,719.3 595.5,722.3 599.5,725.5 603.5,728.6 607.5,732.0 611.5,735.1 615.5,738.0 619.5,740.4 623.5,742.5 627.5,744.3 631.5,746.1 635.5,748.0 639.5,749.8 643.5,751.2 647.5,752.6 651.5,753.7 655.5,754.8 659.5,756.1 663.5,757.2 667.5,758.5 671.5,759.9 675.5,761.8 679.5,764.4 683.5,767.4 687.5,770.6 691.5,773.5 695.5,775.8 699.5,777.5 703.5,778.1 707.5,777.7 711.5,776.4 715.5,774.1 719.5,771.4 723.5,769.5 727.5,768.5 731.5,768.6 735.5,769.8 739.5,772.2 743.5,775.2 747.5,778.5 751.5,782.3 755.5,786.1 759.5,788.3 763.5,789.0 767.5,788.4 771.5,786.6 775.5,783.4 779.5,779.4 783.5,774.7 787.5,769.6 791.5,764.4 795.5,759.9 799.5,756.3 803.5,753.4 807.5,751.0 811.5,749.3 815.5,748.1 819.5,747.7 823.5,748.1 827.5,748.7 831.5,749.5 835.5,750.1 839.5,750.4 843.5,750.2 847.5,749.7 851.5,748.7 855.5,747.5 859.5,745.9 863.5,744.1 867.5,741.9 871.5,740.3 875.5,739.3 879.5,739.7 883.5,741.0 887.5,743.6 891.5,746.6 895.5,750.2 899.5,754.1 903.5,758.5 907.5,762.3 911.5,765.6 915.5,767.7 919.5,768.9 923.5,769.1 927.5,768.6 931.5,767.3 935.5,765.5 939.5,762.9 943.5,760.6 947.5,758.5 951.5,756.6 955.5,754.8 959.5,753.1 963.5,751.4 967.5,749.2 971.5,746.9 975.5,744.5 979.5,741.8 983.5,739.3 987.5,736.7 991.5,734.5 995.5,732.3 999.5,730.4 1003.5,729.0 1007.5,727.8 1011.5,727.2 1015.5,726.7 1019.5,725.8 1023.5,725.0 1027.5,724.2 1031.5,723.3 1035.5,722.7 1039.5,722.3 1043.5,722.4 1047.5,722.6 1051.5,723.1 1055.5,723.8 1059.5,724.4 1063.5,725.2 1067.5,726.3 1071.5,726.9 1075.5,727.6 1079.5,727.9 1083.5,727.8 1087.5,727.3 1091.5,726.9 1095.5,726.6 1099.5,726.4 1103.5,726.2 1107.5,726.4 1111.5,726.5 1115.5,726.7 1119.5,727.2 1123.5,727.5 1127.5,727.9 1131.5,728.9 1135.5,730.3 1139.5,732.2 1143.5,734.4 1147.5,736.7 1151.5,739.0 1155.5,741.1 1159.5,743.0 1163.5,744.5 1167.5,745.1 1171.5,745.0 1175.5,744.5 1179.5,744.1 1183.5,744.0 1187.5,744.2 1191.5,744.7 1195.5,745.3 1199.5,745.8 1203.5,746.3 1207.5,746.4 1211.5,746.0 1215.5,745.2 1219.5,743.9 1223.5,742.7 1227.5,741.6 1231.5,740.9 1235.5,740.5 1239.5,740.8 1243.5,741.4 1247.5,742.2 1251.5,743.1 1255.5,743.6 1259.5,743.5 1263.5,742.8 1267.5,741.7 1271.5,740.2 1275.5,738.3 1279.5,736.3 1283.5,734.2 1287.5,732.6 1291.5,732.1 1295.5,732.4 1299.5,733.3 1303.5,734.6 1307.5,736.3 1311.5,738.4 1315.5,740.9 1319.5,743.8 1323.5,746.4 1327.5,748.6 1331.5,750.5 1335.5,752.2 1339.5,753.9" fill="none" stroke="#ff0000" stroke-width="1" stroke-dasharray="3,3"/>
</g>
<rect x="2" y="21" width="1682" height="1" fill="#000"/>
<rect x="2" y="588" width="1682" height="1" fill="#000"/>
<rect x="2" y="21" width="1" height="568" fill="#000"/>
<rect x="1683" y="21" width="1" height="568" fill="#000"/>
<rect x="2" y="590" width="1682" height="1" fill="#000"/>
<rect x="2" y="694" width="1682" height="1" fill="#000"/>
<rect x="2" y="590" width="1" height="105" fill="#000"/>
<rect x="1683" y="590" width="1" height="105" fill="#000"/>
<rect x="2" y="696" width="1682" height="1" fill="#000"/>
<rect x="2" y="799" width="1682" height="1" fill="#000"/>
<rect x="2" y="696" width="1" height="104" fill="#000"/>
<rect x="1683" y="696" width="1" height="104" fill="#000"/>
<rect x="2" y="151" width="6" height="6" fill="#ff0000"/>
<rect x="4" y="153" width="2" height="2" fill="#ffffff"/>
<rect x="1677" y="151" width="6" height="6" fill="#ff0000"/>
<rect x="1679" y="153" width="2" height="2" fill="#ffffff"/>
<rect x="2" y="443" width="6" height="6" fill="#0000ff"/>
<rect x="4" y="445" width="2" height="2" fill="#ffffff"/>
<rect x="1677" y="443" width="6" height="6" fill="#0000ff"/>
<rect x="1679" y="445" width="2" height="2" fill="#ffffff"/>
<rect x="2" y="534" width="6" height="6" fill="#0000ff"/>
<rect x="4" y="536" width="2" height="2" fill="#ffffff"/>
<rect x="1677" y="534" width="6" height="6" fill="#0000ff"/>
<rect x="1679" y="536" width="2" height="2" fill="#ffffff"/>
<rect x="1684" y="24" width="2" height="1" fill="#000"/>
<rect x="1684" y="57" width="2" height="1" fill="#000"/>
<rect x="1684" y="90" width="2" height="1" fill="#000"/>
<rect x="1684" y="123" width="2" height="1" fill="#000"/>
<rect x="1684" y="156" width="2" height="1" fill="#000"/>
<rect x="1684" y="189" width="2" height="1" fill="#000"/>
<rect x="1684" y="222" width="2" height="1" fill="#000"/>
<rect x="1684" y="255" width="2" height="1" fill="#000"/>
<rect x="1684" y="288" width="2" height="1" fill="#000"/>
<rect x="1684" y="321" width="2" height="1" fill="#000"/>
<rect x="1684" y="354" width="2" height="1" fill="#000"/>
<rect x="1684" y="387" width="2" height="1" fill="#000"/>
<rect x="1684" y="420" width="2" height="1" fill="#000"/>
<rect x="1684" y="453" width="2" height="1" fill="#000"/>
<rect x="1684" y="486" width="2" height="1" fill="#000"/>
<rect x="1684" y="519" width="2" height="1" fill="#000"/>
<rect x="1684" y="552" width="2" height="1" fill="#000"/>
<rect x="1684" y="585" width="2" height="1" fill="#000"/>
<rect x="1684" y="592" width="2" height="1" fill="#000"/>
<rect x="1684" y="622" width="2" height="1" fill="#000"/>
<rect x="1684" y="663" width="2" height="1" fill="#000"/>
<rect x="1684" y="693" width="2" height="1" fill="#000"/>
<rect x="1684" y="698" width="2" height="1" fill="#000"/>
<rect x="1684" y="742" width="2" height="1" fill="#000"/>
<rect x="1684" y="797" width="2" height="1" fill="#000"/>
<rect x="3" y="800" width="1" height="3" fill="#000"/>
<rect x="67" y="800" width="1" height="3" fill="#000"/>
<rect x="131" y="800" width="1" height="3" fill="#000"/>
<rect x="195" y="800" width="1" height="3" fill="#000"/>
<rect x="259" y="800" width="1" height="3" fill="#000"/>
<rect x="323" y="800" width="1" height="3" fill="#000"/>
<rect x="387" y="800" width="1" height="3" fill="#000"/>
<rect x="451" y="800" width="1" height="3" fill="#000"/>
<rect x="515" y="800" width="1" height="3" fill="#000"/>
<rect x="579" y="800" width="1" height="3" fill="#000"/>
<rect x="643" y="800" width="1" height="3" fill="#000"/>
<rect x="707" y="800" width="1" height="3" fill="#000"/>
<rect x="771" y="800" width="1" height="3" fill="#000"/>
<rect x="835" y="800" width="1" height="3" fill="#000"/>
<rect x="899" y="800" width="1" height="3" fill="#000"/>
<rect x="963" y="800" width="1" height="3" fill="#000"/>
<rect x="1027" y="800" width="1" height="3" fill="#000"/>
<rect x="1091" y="800" width="1" height="3" fill="#000"/>
<rect x="1155" y="800" width="1" height="3" fill="#000"/>
<rect x="1219" y="800" width="1" height="3" fill="#000"/>
<rect x="1283" y="800" width="1" height="3" fill="#000"/>
<polygon points="6,28 13,28 9.5,31.5" fill="#000"/>
<rect x="0" y="820" width="1724" height="1" fill="#e3e3e3"/>
<rect x="0" y="822" width="1724" height="1" fill="#000"/>
<rect x="0" y="823" width="1724" height="19" fill="#f0f0f0"/>
<rect x="0" y="842" width="1724" height="1" fill="#e8e8e8"/>
<rect x="108" y="821" width="100" height="20" fill="#ffffff"/>
<rect x="108" y="822" width="1" height="19" fill="#000"/><rect x="207" y="822" width="1" height="19" fill="#000"/><rect x="108" y="840" width="100" height="1" fill="#000"/>
<rect x="312" y="826" width="1" height="13" fill="#707070"/>
<rect x="416" y="826" width="1" height="13" fill="#707070"/>
<rect x="520" y="826" width="1" height="13" fill="#707070"/>
<polygon points="1702,827 1702,835 1698,831" fill="#a0a0a0"/>
<polygon points="1718,827 1718,835 1722,831" fill="#a0a0a0"/>
<rect x="1" y="1" width="1" height="1" fill="#404040"/>
<rect x="3" y="1" width="1" height="1" fill="#404040"/>
<rect x="5" y="1" width="1" height="1" fill="#404040"/>
<rect x="7" y="1" width="1" height="1" fill="#404040"/>
<rect x="9" y="1" width="1" height="1" fill="#404040"/>
<rect x="11" y="1" width="1" height="1" fill="#404040"/>
<rect x="1" y="5" width="1" height="1" fill="#404040"/>
<rect x="3" y="5" width="1" height="1" fill="#404040"/>
<rect x="5" y="5" width="1" height="1" fill="#404040"/>
<rect x="7" y="5" width="1" height="1" fill="#404040"/>
<rect x="9" y="5" width="1" height="1" fill="#404040"/>
<rect x="11" y="5" width="1" height="1" fill="#404040"/>
<rect x="1" y="9" width="1" height="1" fill="#404040"/>
<rect x="3" y="9" width="1" height="1" fill="#404040"/>
<rect x="5" y="9" width="1" height="1" fill="#404040"/>
<rect x="7" y="9" width="1" height="1" fill="#404040"/>
<text x="8.6" y="14" font-size="7" font-weight="bold" fill="#404040" font-family="'Liberation Sans', sans-serif" textLength="4.4" lengthAdjust="spacingAndGlyphs">F</text>
<text x="29.5" y="10" font-size="12" fill="#404040" stroke="#404040" stroke-width="0.6" font-family="'Liberation Sans', sans-serif" textLength="7.4" lengthAdjust="spacingAndGlyphs">A</text>
<rect x="56" y="1" width="1" height="1" fill="#404040"/><rect x="67" y="1" width="1" height="1" fill="#404040"/>
<rect x="56" y="3" width="1" height="1" fill="#404040"/><rect x="67" y="3" width="1" height="1" fill="#404040"/>
<rect x="56" y="5" width="1" height="1" fill="#404040"/><rect x="67" y="5" width="1" height="1" fill="#404040"/>
<rect x="56" y="7" width="1" height="1" fill="#404040"/><rect x="67" y="7" width="1" height="1" fill="#404040"/>
<rect x="56" y="9" width="1" height="1" fill="#404040"/><rect x="67" y="9" width="1" height="1" fill="#404040"/>
<rect x="56" y="11" width="1" height="1" fill="#404040"/><rect x="67" y="11" width="1" height="1" fill="#404040"/>
<rect x="58" y="11" width="1" height="1" fill="#404040"/>
<rect x="60" y="11" width="1" height="1" fill="#404040"/>
<rect x="62" y="11" width="1" height="1" fill="#404040"/>
<rect x="64" y="11" width="1" height="1" fill="#404040"/>
<rect x="66" y="11" width="1" height="1" fill="#404040"/>
<text x="58" y="9.7" font-size="11" fill="#505050" stroke="#505050" stroke-width="0.3" font-family="'Liberation Sans', sans-serif" textLength="8.2" lengthAdjust="spacingAndGlyphs">T</text>
<polygon points="82.5,3.3 90.5,3.3 86.5,-1.2" fill="#505050" shape-rendering="auto"/>
<polyline points="85.2,5.9 87.5,8.4 91.6,3.4" fill="none" stroke="#404040" stroke-width="1.3" shape-rendering="auto"/>
<polygon points="89.8,8 97.4,8 93.6,12.2" fill="#505050" shape-rendering="auto"/><rect x="92.3" y="7" width="2.7" height="1.5" fill="#505050" shape-rendering="auto"/>
<polygon points="104,4 109.5,4 106.75,7" fill="#000"/>
<rect x="115" y="0" width="1" height="16" fill="#a0a0a0"/><rect x="116" y="0" width="1" height="16" fill="#ffffff"/>
<rect x="119" y="1" width="3" height="1" fill="#a0a0a0"/>
<rect x="119" y="3" width="3" height="1" fill="#a0a0a0"/>
<rect x="119" y="5" width="3" height="1" fill="#a0a0a0"/>
<rect x="119" y="7" width="3" height="1" fill="#a0a0a0"/>
<rect x="119" y="9" width="3" height="1" fill="#a0a0a0"/>
<rect x="119" y="11" width="3" height="1" fill="#a0a0a0"/>
<rect x="119" y="13" width="3" height="1" fill="#a0a0a0"/>
<rect x="293" y="0" width="1" height="15" fill="#a0a0a0"/>
<defs><pattern id="dith" x="0" y="0" width="2" height="2" patternUnits="userSpaceOnUse"><rect width="2" height="2" fill="#f0f0f0"/><rect width="1" height="1" fill="#ffffff"/><rect x="1" y="1" width="1" height="1" fill="#ffffff"/></pattern></defs>
<rect x="294" y="0" width="24" height="15" fill="url(#dith)"/><rect x="318" y="0" width="1" height="16" fill="#ffffff"/><rect x="294" y="15" width="25" height="1" fill="#ffffff"/>
<rect x="376" y="0" width="1" height="16" fill="#a0a0a0"/><rect x="377" y="0" width="1" height="16" fill="#ffffff"/>
<polygon points="1341,22 1350,22 1345.5,27" fill="#c0c0c0"/>
<g font-family="'DejaVu Sans', sans-serif" style="font-stretch:condensed" stroke-width="0.3">
<text x="1689" y="28" fill="#000" stroke="#000" font-size="9.5" textLength="33.5" lengthAdjust="spacingAndGlyphs" >1.02640</text>
<text x="1689" y="61" fill="#000" stroke="#000" font-size="9.5" textLength="33.5" lengthAdjust="spacingAndGlyphs" >1.02280</text>
<text x="1689" y="94" fill="#000" stroke="#000" font-size="9.5" textLength="33.5" lengthAdjust="spacingAndGlyphs" >1.01920</text>
<text x="1689" y="127" fill="#000" stroke="#000" font-size="9.5" textLength="33.5" lengthAdjust="spacingAndGlyphs" >1.01550</text>
<text x="1689" y="160" fill="#000" stroke="#000" font-size="9.5" textLength="33.5" lengthAdjust="spacingAndGlyphs" >1.01190</text>
<text x="1689" y="193" fill="#000" stroke="#000" font-size="9.5" textLength="33.5" lengthAdjust="spacingAndGlyphs" >1.00830</text>
<text x="1689" y="226" fill="#000" stroke="#000" font-size="9.5" textLength="33.5" lengthAdjust="spacingAndGlyphs" >1.00460</text>
<text x="1689" y="259" fill="#000" stroke="#000" font-size="9.5" textLength="33.5" lengthAdjust="spacingAndGlyphs" >1.00100</text>
<text x="1689" y="292" fill="#000" stroke="#000" font-size="9.5" textLength="33.5" lengthAdjust="spacingAndGlyphs" >0.99740</text>
<text x="1689" y="325" fill="#000" stroke="#000" font-size="9.5" textLength="33.5" lengthAdjust="spacingAndGlyphs" >0.99370</text>
<text x="1689" y="358" fill="#000" stroke="#000" font-size="9.5" textLength="33.5" lengthAdjust="spacingAndGlyphs" >0.99010</text>
<text x="1689" y="391" fill="#000" stroke="#000" font-size="9.5" textLength="33.5" lengthAdjust="spacingAndGlyphs" >0.98650</text>
<text x="1689" y="424" fill="#000" stroke="#000" font-size="9.5" textLength="33.5" lengthAdjust="spacingAndGlyphs" >0.98280</text>
<text x="1689" y="457" fill="#000" stroke="#000" font-size="9.5" textLength="33.5" lengthAdjust="spacingAndGlyphs" >0.97920</text>
<text x="1689" y="490" fill="#000" stroke="#000" font-size="9.5" textLength="33.5" lengthAdjust="spacingAndGlyphs" >0.97560</text>
<text x="1689" y="523" fill="#000" stroke="#000" font-size="9.5" textLength="33.5" lengthAdjust="spacingAndGlyphs" >0.97190</text>
<text x="1689" y="556" fill="#000" stroke="#000" font-size="9.5" textLength="33.5" lengthAdjust="spacingAndGlyphs" >0.96830</text>
<text x="1689" y="589" fill="#000" stroke="#000" font-size="9.5" textLength="33.5" lengthAdjust="spacingAndGlyphs" >0.96470</text>
<text x="1687" y="601" fill="#000" stroke="#000" font-size="9.5" textLength="14.5" lengthAdjust="spacingAndGlyphs" >100</text>
<text x="1687" y="627" fill="#000" stroke="#000" font-size="9.5" textLength="9.5" lengthAdjust="spacingAndGlyphs" >70</text>
<text x="1687" y="668" fill="#000" stroke="#000" font-size="9.5" textLength="9.5" lengthAdjust="spacingAndGlyphs" >30</text>
<text x="1687" y="691" fill="#000" stroke="#000" font-size="9.5" textLength="4.8" lengthAdjust="spacingAndGlyphs" >0</text>
<text x="1687.2" y="707" fill="#000" stroke="#000" font-size="9.5" textLength="38.5" lengthAdjust="spacingAndGlyphs" >0.005986</text>
<text x="1687.2" y="746" fill="#000" stroke="#000" font-size="9.5" textLength="19" lengthAdjust="spacingAndGlyphs" >0.00</text>
<text x="1687.2" y="796" fill="#000" stroke="#000" font-size="9.5" textLength="38.5" lengthAdjust="spacingAndGlyphs" >-0.00773</text>
<text x="1.7" y="812" fill="#000" stroke="#000" font-size="9.5" textLength="54.3" lengthAdjust="spacingAndGlyphs" >22 Nov 2018</text>
<text x="66.2" y="812" fill="#000" stroke="#000" font-size="9.5" textLength="52.2" lengthAdjust="spacingAndGlyphs" >11 Dec 2018</text>
<text x="130.1" y="812" fill="#000" stroke="#000" font-size="9.5" textLength="52.2" lengthAdjust="spacingAndGlyphs" >29 Dec 2018</text>
<text x="194.1" y="812" fill="#000" stroke="#000" font-size="9.5" textLength="50.3" lengthAdjust="spacingAndGlyphs" >17 Jan 2019</text>
<text x="258.0" y="812" fill="#000" stroke="#000" font-size="9.5" textLength="47.3" lengthAdjust="spacingAndGlyphs" >5 Feb 2019</text>
<text x="322.0" y="812" fill="#000" stroke="#000" font-size="9.5" textLength="52.2" lengthAdjust="spacingAndGlyphs" >23 Feb 2019</text>
<text x="385.9" y="812" fill="#000" stroke="#000" font-size="9.5" textLength="52.5" lengthAdjust="spacingAndGlyphs" >14 Mar 2019</text>
<text x="450.0" y="812" fill="#000" stroke="#000" font-size="9.5" textLength="46.0" lengthAdjust="spacingAndGlyphs" >2 Apr 2019</text>
<text x="514.0" y="812" fill="#000" stroke="#000" font-size="9.5" textLength="51.2" lengthAdjust="spacingAndGlyphs" >20 Apr 2019</text>
<text x="577.9" y="812" fill="#000" stroke="#000" font-size="9.5" textLength="50.5" lengthAdjust="spacingAndGlyphs" >9 May 2019</text>
<text x="641.9" y="812" fill="#000" stroke="#000" font-size="9.5" textLength="55.6" lengthAdjust="spacingAndGlyphs" >28 May 2019</text>
<text x="705.9" y="812" fill="#000" stroke="#000" font-size="9.5" textLength="50.3" lengthAdjust="spacingAndGlyphs" >15 Jun 2019</text>
<text x="769.8" y="812" fill="#000" stroke="#000" font-size="9.5" textLength="42.6" lengthAdjust="spacingAndGlyphs" >4 Jul 2019</text>
<text x="833.8" y="812" fill="#000" stroke="#000" font-size="9.5" textLength="47.7" lengthAdjust="spacingAndGlyphs" >23 Jul 2019</text>
<text x="898.7" y="812" fill="#000" stroke="#000" font-size="9.5" textLength="53.0" lengthAdjust="spacingAndGlyphs" >10 Aug 2019</text>
<text x="961.4" y="812" fill="#000" stroke="#000" font-size="9.5" textLength="53.8" lengthAdjust="spacingAndGlyphs" >29 Aug 2019</text>
<text x="1025.3" y="812" fill="#000" stroke="#000" font-size="9.5" textLength="53.0" lengthAdjust="spacingAndGlyphs" >17 Sep 2019</text>
<text x="1089.3" y="812" fill="#000" stroke="#000" font-size="9.5" textLength="47.0" lengthAdjust="spacingAndGlyphs" >5 Oct 2019</text>
<text x="1153.2" y="812" fill="#000" stroke="#000" font-size="9.5" textLength="52.3" lengthAdjust="spacingAndGlyphs" >24 Oct 2019</text>
<text x="1218.0" y="812" fill="#000" stroke="#000" font-size="9.5" textLength="54.0" lengthAdjust="spacingAndGlyphs" >12 Nov 2019</text>
<text x="1281.7" y="812" fill="#000" stroke="#000" font-size="9.5" textLength="54.5" lengthAdjust="spacingAndGlyphs" >30 Nov 2019</text>
<text x="17.6" y="33" fill="#000" stroke="#000" font-size="9.5" textLength="65.4" lengthAdjust="spacingAndGlyphs" >USDCHF,Daily</text>
<text x="88.8" y="33" fill="#000" stroke="#000" font-size="9.5" textLength="141.3" lengthAdjust="spacingAndGlyphs" >0.98382 0.98411 0.98170 0.98315</text>
<text x="6.6" y="603" fill="#000" stroke="#000" font-size="9.5" textLength="68.6" lengthAdjust="spacingAndGlyphs" >RSI(14) 36.6697</text>
<text x="6.6" y="709" fill="#000" stroke="#000" font-size="9.5" textLength="154.6" lengthAdjust="spacingAndGlyphs" >MACD(12,26,9) -0.002499 -0.001618</text>
<text x="16.4" y="837" fill="#7c7c7c" stroke="#7c7c7c" font-size="12" textLength="79.6" lengthAdjust="spacingAndGlyphs" font-family="'Liberation Sans', sans-serif" style="font-stretch:normal" stroke-width="0">EURUSD,Daily</text>
<text x="118.4" y="837" fill="#000" stroke="#000" font-size="12" textLength="78.8" lengthAdjust="spacingAndGlyphs" font-family="'Liberation Sans', sans-serif" style="font-stretch:normal" stroke-width="0">USDCHF,Daily</text>
<text x="219" y="837" fill="#7c7c7c" stroke="#7c7c7c" font-size="12" textLength="82.5" lengthAdjust="spacingAndGlyphs" font-family="'Liberation Sans', sans-serif" style="font-stretch:normal" stroke-width="0">AUDUSD,Daily</text>
<text x="323" y="837" fill="#7c7c7c" stroke="#7c7c7c" font-size="12" textLength="81.2" lengthAdjust="spacingAndGlyphs" font-family="'Liberation Sans', sans-serif" style="font-stretch:normal" stroke-width="0">USDCAD,Daily</text>
<text x="425.8" y="837" fill="#7c7c7c" stroke="#7c7c7c" font-size="12" textLength="83.4" lengthAdjust="spacingAndGlyphs" font-family="'Liberation Sans', sans-serif" style="font-stretch:normal" stroke-width="0">USDCNH,Daily</text>
<text x="130" y="9" fill="#404040" stroke="#404040" font-size="9.5" textLength="13.5" lengthAdjust="spacingAndGlyphs" stroke-width="0.1">M1</text>
<text x="158.5" y="9" fill="#404040" stroke="#404040" font-size="9.5" textLength="13.5" lengthAdjust="spacingAndGlyphs" stroke-width="0.1">M5</text>
<text x="184.3" y="9" fill="#404040" stroke="#404040" font-size="9.5" textLength="18.5" lengthAdjust="spacingAndGlyphs" stroke-width="0.1">M15</text>
<text x="212.3" y="9" fill="#404040" stroke="#404040" font-size="9.5" textLength="18.5" lengthAdjust="spacingAndGlyphs" stroke-width="0.1">M30</text>
<text x="243.3" y="9" fill="#404040" stroke="#404040" font-size="9.5" textLength="12.5" lengthAdjust="spacingAndGlyphs" stroke-width="0.1">H1</text>
<text x="270.3" y="9" fill="#404040" stroke="#404040" font-size="9.5" textLength="13.3" lengthAdjust="spacingAndGlyphs" stroke-width="0.1">H4</text>
<text x="299.5" y="9" fill="#404040" stroke="#404040" font-size="9.5" textLength="12.5" lengthAdjust="spacingAndGlyphs" stroke-width="0.1">D1</text>
<text x="327" y="9" fill="#404040" stroke="#404040" font-size="9.5" textLength="14.5" lengthAdjust="spacingAndGlyphs" stroke-width="0.1">W1</text>
<text x="353.3" y="9" fill="#404040" stroke="#404040" font-size="9.5" textLength="15.3" lengthAdjust="spacingAndGlyphs" stroke-width="0.1">MN</text>
</g>
<rect x="1685" y="39" width="39" height="11" fill="#ff0000"/>
<text x="1689" y="48" fill="#fff" stroke="#fff" stroke-width="0.3" font-size="9.5" font-family="'DejaVu Sans', sans-serif" style="font-stretch:condensed" textLength="33.5" lengthAdjust="spacingAndGlyphs">1.02407</text>
<rect x="1685" y="148" width="39" height="11" fill="#ff0000"/>
<text x="1689" y="157" fill="#fff" stroke="#fff" stroke-width="0.3" font-size="9.5" font-family="'DejaVu Sans', sans-serif" style="font-stretch:condensed" textLength="33.5" lengthAdjust="spacingAndGlyphs">1.01209</text>
<rect x="1685" y="276" width="39" height="11" fill="#00ff00"/>
<text x="1689" y="285" fill="#fff" stroke="#fff" stroke-width="0.3" font-size="9.5" font-family="'DejaVu Sans', sans-serif" style="font-stretch:condensed" textLength="33.5" lengthAdjust="spacingAndGlyphs">0.99803</text>
<rect x="1685" y="412" width="39" height="11" fill="#000000"/>
<text x="1689" y="421" fill="#fff" stroke="#fff" stroke-width="0.3" font-size="9.5" font-family="'DejaVu Sans', sans-serif" style="font-stretch:condensed" textLength="33.5" lengthAdjust="spacingAndGlyphs">0.98315</text>
<rect x="1685" y="440" width="39" height="11" fill="#0000ff"/>
<text x="1689" y="449" fill="#fff" stroke="#fff" stroke-width="0.3" font-size="9.5" font-family="'DejaVu Sans', sans-serif" style="font-stretch:condensed" textLength="33.5" lengthAdjust="spacingAndGlyphs">0.98000</text>
<rect x="1685" y="531" width="39" height="11" fill="#0000ff"/>
<text x="1689" y="540" fill="#fff" stroke="#fff" stroke-width="0.3" font-size="9.5" font-family="'DejaVu Sans', sans-serif" style="font-stretch:condensed" textLength="33.5" lengthAdjust="spacingAndGlyphs">0.97000</text>
</svg>
</body></html>
